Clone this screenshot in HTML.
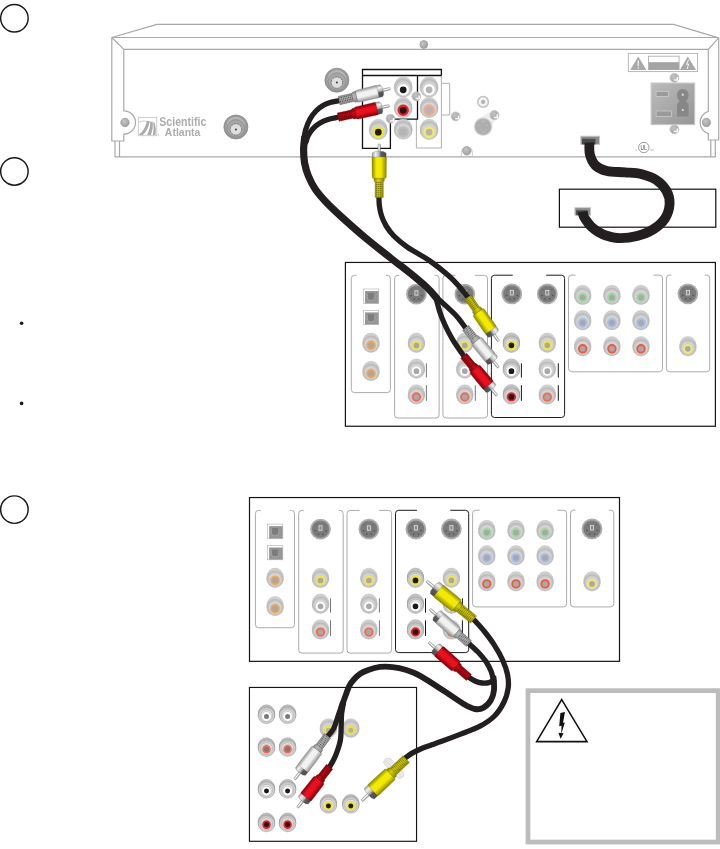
<!DOCTYPE html>
<html><head><meta charset="utf-8"><title>Connection diagram</title>
<style>html,body{margin:0;padding:0;background:#fff;}body{width:720px;height:849px;overflow:hidden;font-family:"Liberation Sans",sans-serif;}svg{display:block}</style>
</head><body>
<svg width="720" height="849" viewBox="0 0 720 849">
<defs>
<filter id="noop" x="-5%" y="-20%" width="110%" height="140%"><feOffset dx="0" dy="0"/></filter>
<radialGradient id="jg" cx="50%" cy="50%" r="52%"><stop offset="0" stop-color="#ececec"/><stop offset="0.6" stop-color="#dadada"/><stop offset="1" stop-color="#b0b0b0"/></radialGradient>
<radialGradient id="jg2" cx="50%" cy="55%" r="55%"><stop offset="0" stop-color="#f6f6f6"/><stop offset="0.6" stop-color="#e4e4e4"/><stop offset="1" stop-color="#b4b4b4"/></radialGradient>
<radialGradient id="sg" cx="40%" cy="35%" r="70%"><stop offset="0" stop-color="#c6c6c6"/><stop offset="1" stop-color="#9c9c9c"/></radialGradient>
<linearGradient id="pin" x1="0" y1="0" x2="0" y2="1"><stop offset="0" stop-color="#bdbdbd"/><stop offset="0.45" stop-color="#ffffff"/><stop offset="1" stop-color="#8a8a8a"/></linearGradient>
<linearGradient id="metal" x1="0" y1="0" x2="0" y2="1"><stop offset="0" stop-color="#9a9a9a"/><stop offset="0.22" stop-color="#f2f2f2"/><stop offset="0.5" stop-color="#b4b4b4"/><stop offset="0.62" stop-color="#5c5c5c"/><stop offset="1" stop-color="#4a4a4a"/></linearGradient>
<linearGradient id="outlet" x1="0" y1="0" x2="1" y2="1"><stop offset="0" stop-color="#bcbcbc"/><stop offset="1" stop-color="#969696"/></linearGradient>
<radialGradient id="coax" cx="50%" cy="50%" r="50%"><stop offset="0" stop-color="#c8c8c8"/><stop offset="0.7" stop-color="#b0b0b0"/><stop offset="1" stop-color="#8c8c8c"/></radialGradient>
<linearGradient id="pb_y" x1="0" y1="0" x2="0" y2="1"><stop offset="0" stop-color="#8a8400"/><stop offset="0.3" stop-color="#f2ea00"/><stop offset="0.62" stop-color="#f2ea00"/><stop offset="1" stop-color="#8a8400"/></linearGradient><linearGradient id="ps_y" x1="0" y1="0" x2="0" y2="1"><stop offset="0" stop-color="#8a8400"/><stop offset="0.4" stop-color="#d8d000"/><stop offset="1" stop-color="#8a8400"/></linearGradient><linearGradient id="pb_r" x1="0" y1="0" x2="0" y2="1"><stop offset="0" stop-color="#7d0008"/><stop offset="0.3" stop-color="#e8111f"/><stop offset="0.62" stop-color="#e8111f"/><stop offset="1" stop-color="#7d0008"/></linearGradient><linearGradient id="ps_r" x1="0" y1="0" x2="0" y2="1"><stop offset="0" stop-color="#7d0008"/><stop offset="0.4" stop-color="#c00d18"/><stop offset="1" stop-color="#7d0008"/></linearGradient><linearGradient id="pb_w" x1="0" y1="0" x2="0" y2="1"><stop offset="0" stop-color="#8e8e8e"/><stop offset="0.3" stop-color="#f2f2f2"/><stop offset="0.62" stop-color="#f2f2f2"/><stop offset="1" stop-color="#8e8e8e"/></linearGradient><linearGradient id="ps_w" x1="0" y1="0" x2="0" y2="1"><stop offset="0" stop-color="#8e8e8e"/><stop offset="0.4" stop-color="#b8b8b8"/><stop offset="1" stop-color="#8e8e8e"/></linearGradient></defs>
<rect width="720" height="849" fill="#fff"/>
<circle cx="14.4" cy="18.2" r="13.75" fill="#fff" stroke="#1a1a1a" stroke-width="1.45"/>
<circle cx="14.4" cy="171.4" r="13.75" fill="#fff" stroke="#1a1a1a" stroke-width="1.45"/>
<circle cx="14.4" cy="509.6" r="13.75" fill="#fff" stroke="#1a1a1a" stroke-width="1.45"/>
<circle cx="21.6" cy="323.3" r="1.8" fill="#1a1a1a"/><circle cx="21.6" cy="403.4" r="1.8" fill="#1a1a1a"/>
<g fill="none" stroke="#a9a9a9" stroke-width="1.2" stroke-linejoin="round">
<path d="M111.8,37.5 L157,24.4 H673.5 L718.7,37.9"/>
<path d="M111.8,37.5 H718.7"/>
<path d="M123.8,49.4 H708.3"/>
<path d="M111.8,37.5 L123.8,49.4 M718.7,37.9 L708.3,49.4"/>
<path d="M111.8,37.5 V141 H123.8 V134.2 A11.6,11.6 0 0 0 123.8,110.8 V49.4"/>
<path d="M718.7,37.9 V140 H708.3 V133.6 A11.6,11.6 0 0 1 708.3,111.4 V49.4"/>
<path d="M115,141 V156.9 M119.5,141 V156.9"/>
<path d="M710.8,140 V156.9 M715.3,140 V156.9"/>
<path d="M115,156.9 H715.3"/>
</g>
<circle cx="125" cy="122.5" r="4.2" fill="url(#sg)" stroke="#a2a2a2" stroke-width="0.9"/>
<circle cx="706.4" cy="122.5" r="4.2" fill="url(#sg)" stroke="#a2a2a2" stroke-width="0.9"/>
<circle cx="423.8" cy="44.5" r="3.9" fill="url(#sg)" stroke="#a2a2a2" stroke-width="0.9"/>
<g filter="url(#noop)">
<rect x="138.3" y="117.5" width="18.5" height="18.2" fill="#fff" stroke="#c2c2c2" stroke-width="0.8"/>
<path d="M138.8,134.9 Q145,130 147,121 L149.8,121 Q148.6,129.6 142.8,134.9 Z" fill="#aaaaaa"/>
<path d="M147.2,134.9 Q150.6,128 150.2,121.8 L152.5,121.6 Q153.6,128 150.9,134.9 Z" fill="#aaaaaa"/>
<path d="M152.9,134.9 Q154.2,128 153.2,122.2 L154.7,122.8 Q156.5,129 155.5,134.9 Z" fill="#aaaaaa"/>
<path d="M138.9,122.1 Q143,120.3 148,121.4" fill="none" stroke="#b4b4b4" stroke-width="0.7"/>
<rect x="158" y="134.4" width="1" height="1" fill="#b0b0b0"/>
<text x="159.3" y="126.3" font-family="Liberation Sans, sans-serif" font-weight="bold" font-size="12.2" fill="#adadad" textLength="47" lengthAdjust="spacingAndGlyphs">Scientific</text>
<text x="164.8" y="135.7" font-family="Liberation Sans, sans-serif" font-weight="bold" font-size="11.4" fill="#adadad" textLength="35.6" lengthAdjust="spacingAndGlyphs">Atlanta</text>
</g>
<circle cx="235.9" cy="127.0" r="12.0" fill="url(#coax)" stroke="#8e8e8e" stroke-width="0.8"/><circle cx="235.9" cy="126.2" r="9.8" fill="#b6b6b6" stroke="#9a9a9a" stroke-width="0.7"/><circle cx="235.9" cy="128.4" r="8.8" fill="#a6a6a6" stroke="#8a8a8a" stroke-width="0.8"/><circle cx="235.9" cy="129.4" r="5.7" fill="#dedede" stroke="#6a6a6a" stroke-width="0.8" stroke-dasharray="2.2 0.8"/><circle cx="235.9" cy="129.4" r="1.0" fill="#3a3a3a"/>
<circle cx="336.9" cy="80.2" r="12.0" fill="url(#coax)" stroke="#8e8e8e" stroke-width="0.8"/><circle cx="336.9" cy="79.4" r="9.8" fill="#b6b6b6" stroke="#9a9a9a" stroke-width="0.7"/><circle cx="336.9" cy="81.60000000000001" r="8.8" fill="#a6a6a6" stroke="#8a8a8a" stroke-width="0.8"/><circle cx="336.9" cy="82.60000000000001" r="5.7" fill="#dedede" stroke="#6a6a6a" stroke-width="0.8" stroke-dasharray="2.2 0.8"/><circle cx="336.9" cy="82.60000000000001" r="1.0" fill="#3a3a3a"/>
<path d="M441.4,75.5 V148 H416.4 V119.2" fill="none" stroke="#a8a8a8" stroke-width="0.9"/>
<path d="M441.4,83.3 H449.7 V115 H441.4" fill="none" stroke="#a8a8a8" stroke-width="0.9"/>
<path d="M362.5,75.5 H441.4 M417.5,75.5 V119.2 H390.4 V148.3 H362.5 V69.5 H441.4 V75.5" fill="none" stroke="#111" stroke-width="1.3" stroke-linejoin="miter"/>
<g opacity="1.0"><circle cx="403.2" cy="127.10" r="8.20" fill="#d6d6d6" stroke="#b6b6b6" stroke-width="0.4"/><circle cx="403.2" cy="128.13" r="8.47" fill="#e4e4e4" stroke="#b6b6b6" stroke-width="0.4"/><circle cx="403.2" cy="129.17" r="8.73" fill="#d6d6d6" stroke="#b6b6b6" stroke-width="0.4"/><circle cx="403.2" cy="130.20" r="9.0" fill="url(#jg)" stroke="#b6b6b6" stroke-width="0.4"/><circle cx="403.2" cy="131.40" r="7.50" fill="#dcdcdc" stroke="#b6b6b6" stroke-width="0.4"/><circle cx="403.2" cy="131.9" r="6.25" fill="#d4d4d4" stroke="#b6b6b6" stroke-width="0.36"/><circle cx="403.2" cy="131.9" r="4.55" fill="#b4b4b4" stroke="#bdbdbd" stroke-width="2.30"/></g>
<g opacity="1.0"><circle cx="403.2" cy="85.00" r="8.20" fill="#d6d6d6" stroke="#b6b6b6" stroke-width="0.4"/><circle cx="403.2" cy="86.03" r="8.47" fill="#e4e4e4" stroke="#b6b6b6" stroke-width="0.4"/><circle cx="403.2" cy="87.07" r="8.73" fill="#d6d6d6" stroke="#b6b6b6" stroke-width="0.4"/><circle cx="403.2" cy="88.10" r="9.0" fill="url(#jg)" stroke="#b6b6b6" stroke-width="0.4"/><circle cx="403.2" cy="89.30" r="7.50" fill="#dcdcdc" stroke="#b6b6b6" stroke-width="0.4"/><circle cx="403.2" cy="89.8" r="6.25" fill="#d4d4d4" stroke="#b6b6b6" stroke-width="0.36"/><circle cx="403.2" cy="89.8" r="4.55" fill="#1d1a1b" stroke="#ffffff" stroke-width="2.30"/></g>
<g opacity="1.0"><circle cx="403.2" cy="105.50" r="8.20" fill="#d6d6d6" stroke="#b6b6b6" stroke-width="0.4"/><circle cx="403.2" cy="106.53" r="8.47" fill="#e4e4e4" stroke="#b6b6b6" stroke-width="0.4"/><circle cx="403.2" cy="107.57" r="8.73" fill="#d6d6d6" stroke="#b6b6b6" stroke-width="0.4"/><circle cx="403.2" cy="108.60" r="9.0" fill="url(#jg)" stroke="#b6b6b6" stroke-width="0.4"/><circle cx="403.2" cy="109.80" r="7.50" fill="#dcdcdc" stroke="#b6b6b6" stroke-width="0.4"/><circle cx="403.2" cy="110.3" r="6.25" fill="#d4d4d4" stroke="#b6b6b6" stroke-width="0.36"/><circle cx="403.2" cy="110.3" r="4.55" fill="#1d1a1b" stroke="#ee1c24" stroke-width="2.30"/></g>
<g opacity="1.0"><circle cx="378.3" cy="127.40" r="8.20" fill="#d6d6d6" stroke="#b6b6b6" stroke-width="0.4"/><circle cx="378.3" cy="128.43" r="8.47" fill="#e4e4e4" stroke="#b6b6b6" stroke-width="0.4"/><circle cx="378.3" cy="129.47" r="8.73" fill="#d6d6d6" stroke="#b6b6b6" stroke-width="0.4"/><circle cx="378.3" cy="130.50" r="9.0" fill="url(#jg)" stroke="#b6b6b6" stroke-width="0.4"/><circle cx="378.3" cy="131.70" r="7.50" fill="#dcdcdc" stroke="#b6b6b6" stroke-width="0.4"/><circle cx="378.3" cy="132.2" r="6.25" fill="#d4d4d4" stroke="#b6b6b6" stroke-width="0.36"/><circle cx="378.3" cy="132.2" r="4.55" fill="#1d1a1b" stroke="#f4ea10" stroke-width="2.30"/></g>
<g opacity="1.0"><circle cx="429.1" cy="85.00" r="8.20" fill="#d6d6d6" stroke="#b6b6b6" stroke-width="0.4"/><circle cx="429.1" cy="86.03" r="8.47" fill="#e4e4e4" stroke="#b6b6b6" stroke-width="0.4"/><circle cx="429.1" cy="87.07" r="8.73" fill="#d6d6d6" stroke="#b6b6b6" stroke-width="0.4"/><circle cx="429.1" cy="88.10" r="9.0" fill="url(#jg)" stroke="#b6b6b6" stroke-width="0.4"/><circle cx="429.1" cy="89.30" r="7.50" fill="#dcdcdc" stroke="#b6b6b6" stroke-width="0.4"/><circle cx="429.1" cy="89.8" r="6.25" fill="#d4d4d4" stroke="#b6b6b6" stroke-width="0.36"/><circle cx="429.1" cy="89.8" r="4.55" fill="#b4b4b4" stroke="#ffffff" stroke-width="2.30"/></g>
<g opacity="1.0"><circle cx="429.1" cy="105.50" r="8.20" fill="#d6d6d6" stroke="#b6b6b6" stroke-width="0.4"/><circle cx="429.1" cy="106.53" r="8.47" fill="#e4e4e4" stroke="#b6b6b6" stroke-width="0.4"/><circle cx="429.1" cy="107.57" r="8.73" fill="#d6d6d6" stroke="#b6b6b6" stroke-width="0.4"/><circle cx="429.1" cy="108.60" r="9.0" fill="url(#jg)" stroke="#b6b6b6" stroke-width="0.4"/><circle cx="429.1" cy="109.80" r="7.50" fill="#dcdcdc" stroke="#b6b6b6" stroke-width="0.4"/><circle cx="429.1" cy="110.3" r="6.25" fill="#d4d4d4" stroke="#b6b6b6" stroke-width="0.36"/><circle cx="429.1" cy="110.3" r="4.55" fill="#b4b4b4" stroke="#f4a58e" stroke-width="2.30"/></g>
<g opacity="1.0"><circle cx="429.1" cy="127.40" r="8.20" fill="#d6d6d6" stroke="#b6b6b6" stroke-width="0.4"/><circle cx="429.1" cy="128.43" r="8.47" fill="#e4e4e4" stroke="#b6b6b6" stroke-width="0.4"/><circle cx="429.1" cy="129.47" r="8.73" fill="#d6d6d6" stroke="#b6b6b6" stroke-width="0.4"/><circle cx="429.1" cy="130.50" r="9.0" fill="url(#jg)" stroke="#b6b6b6" stroke-width="0.4"/><circle cx="429.1" cy="131.70" r="7.50" fill="#dcdcdc" stroke="#b6b6b6" stroke-width="0.4"/><circle cx="429.1" cy="132.2" r="6.25" fill="#d4d4d4" stroke="#b6b6b6" stroke-width="0.36"/><circle cx="429.1" cy="132.2" r="4.55" fill="#b4b4b4" stroke="#f6ee58" stroke-width="2.30"/></g>
<circle cx="416.3" cy="96.3" r="4.4" fill="url(#sg)" stroke="#c4c4c4" stroke-width="0.9"/><path d="M419.20,95.50 V98.60 H415.70" stroke="#fafafa" stroke-width="1.5" fill="none"/><path d="M413.90,95.90 H416.90 M415.40,94.10 V97.30" stroke="#bdbdbd" stroke-width="0.7" fill="none"/>
<circle cx="390.5" cy="118.7" r="4.4" fill="url(#sg)" stroke="#c4c4c4" stroke-width="0.9"/><path d="M393.40,117.90 V121.00 H389.90" stroke="#fafafa" stroke-width="1.5" fill="none"/><path d="M388.10,118.30 H391.10 M389.60,116.50 V119.70" stroke="#bdbdbd" stroke-width="0.7" fill="none"/>
<circle cx="455.7" cy="116.4" r="4.4" fill="url(#sg)" stroke="#c4c4c4" stroke-width="0.9"/><path d="M458.60,115.60 V118.70 H455.10" stroke="#fafafa" stroke-width="1.5" fill="none"/><path d="M453.30,116.00 H456.30 M454.80,114.20 V117.40" stroke="#bdbdbd" stroke-width="0.7" fill="none"/>
<circle cx="494.4" cy="115.1" r="4.4" fill="url(#sg)" stroke="#c4c4c4" stroke-width="0.9"/><path d="M497.30,114.30 V117.40 H493.80" stroke="#fafafa" stroke-width="1.5" fill="none"/><path d="M492.00,114.70 H495.00 M493.50,112.90 V116.10" stroke="#bdbdbd" stroke-width="0.7" fill="none"/>
<path d="M461.4,156.9 V152.5 Q461.4,149 464,147.6 M472.4,156.9 V152.5 Q472.4,149 469.8,147.6" fill="none" stroke="#c2c2c2" stroke-width="0.8"/>
<circle cx="466.8" cy="150.8" r="4.2" fill="url(#sg)" stroke="#a2a2a2" stroke-width="0.9"/>
<circle cx="483.1" cy="101.9" r="5.3" fill="#f4f4f4" stroke="#c2c2c2" stroke-width="1.5"/><circle cx="483.1" cy="101.9" r="2.1" fill="#b2b2b2"/>
<path d="M477,119.5 L491,111.6 L497,118 L490,128 Z" fill="#eeeeee"/>
<circle cx="483.1" cy="126.7" r="9.4" fill="#e2e2e2"/><circle cx="483.1" cy="126.7" r="8.3" fill="#aeaeae" stroke="#c4c4c4" stroke-width="0.6"/>
<circle cx="478.90000000000003" cy="125.5" r="0.8" fill="#bdbdbd"/>
<circle cx="487.3" cy="125.5" r="0.8" fill="#bdbdbd"/>
<circle cx="480.3" cy="130.1" r="0.8" fill="#bdbdbd"/>
<circle cx="485.90000000000003" cy="130.1" r="0.8" fill="#bdbdbd"/>
<rect x="481.6" y="120.6" width="3" height="1.6" fill="#bcbcbc"/><rect x="481.4" y="131.3" width="3.4" height="1.2" fill="#bcbcbc"/>
<circle cx="494.4" cy="115.1" r="4.4" fill="url(#sg)" stroke="#c4c4c4" stroke-width="0.9"/><path d="M497.30,114.30 V117.40 H493.80" stroke="#fafafa" stroke-width="1.5" fill="none"/><path d="M492.00,114.70 H495.00 M493.50,112.90 V116.10" stroke="#bdbdbd" stroke-width="0.7" fill="none"/>
<rect x="628.3" y="53.4" width="69.3" height="18.2" fill="#fff" stroke="#b0b0b0" stroke-width="0.9"/>
<path d="M638.2,56.6 L646.4,70 H630.2 Z" fill="#a8a8a8"/><path d="M638.2,60.5 V66.2 M638.2,67.4 V68.8" stroke="#fff" stroke-width="1.1"/>
<path d="M687.8,56.6 L696,70 H679.8 Z" fill="#a8a8a8"/><path d="M688.6,59.6 L686.6,64.4 L688.6,64 L687.2,69 " stroke="#fff" stroke-width="0.9" fill="none"/>
<rect x="648.6" y="56.2" width="30.5" height="6.4" fill="#fff" stroke="#a8a8a8" stroke-width="0.8"/><rect x="648.2" y="62.8" width="31.3" height="7.2" fill="#a4a4a4"/>
<circle cx="674.4" cy="77.8" r="4.4" fill="url(#sg)" stroke="#c4c4c4" stroke-width="0.9"/><path d="M677.30,77.00 V80.10 H673.80" stroke="#fafafa" stroke-width="1.5" fill="none"/><path d="M672.00,77.40 H675.00 M673.50,75.60 V78.80" stroke="#bdbdbd" stroke-width="0.7" fill="none"/>
<circle cx="674.4" cy="129.3" r="4.4" fill="url(#sg)" stroke="#c4c4c4" stroke-width="0.9"/><path d="M677.30,128.50 V131.60 H673.80" stroke="#fafafa" stroke-width="1.5" fill="none"/><path d="M672.00,128.90 H675.00 M673.50,127.10 V130.30" stroke="#bdbdbd" stroke-width="0.7" fill="none"/>
<rect x="651.2" y="83.1" width="43.4" height="41.4" fill="url(#outlet)" stroke="#c4c4c4" stroke-width="1.2"/>
<rect x="656.1" y="91.6" width="12.1" height="4.8" fill="#9a9a9a" stroke="#d0d0d0" stroke-width="0.7"/>
<rect x="656.1" y="111" width="15.5" height="5.4" fill="#9a9a9a" stroke="#d0d0d0" stroke-width="0.7"/>
<path d="M677,96 a5.9,6 0 1 1 11.6,0 q-0.4,3 -2.2,4.6 q-0.6,0.6 0,1.2 q2.2,1.4 2.2,3.6 v11 h-11.6 v-11 q0,-2.2 2.2,-3.6 q0.6,-0.6 0,-1.2 q-1.8,-1.6 -2.2,-4.6 z" fill="#878787"/>
<path d="M682.8,93 l1.3,2.4 h-2.6 z M682.8,108.4 l1.3,2.4 h-2.6 z" fill="#f0f0f0"/>
<circle cx="643.8" cy="147.5" r="5.2" fill="#fff" stroke="#8e8e8e" stroke-width="0.9"/>
<g filter="url(#noop)">
<text x="640.4" y="150.2" font-family="Liberation Sans, sans-serif" font-size="6.4" fill="#858585" font-weight="bold" textLength="6.6" lengthAdjust="spacingAndGlyphs">UL</text>
<text x="635.4" y="150.6" font-family="Liberation Sans, sans-serif" font-size="3.4" fill="#a8a8a8">c</text><text x="650.2" y="150.6" font-family="Liberation Sans, sans-serif" font-size="3.4" fill="#a8a8a8">us</text></g>
<g transform="translate(0,0)"><rect x="345.4" y="262.45" width="370" height="163.8" fill="#fff" stroke="#151515" stroke-width="1.2"/><path d="M356.6,275.3 H354.5 Q351.3,275.3 351.3,278.5 V389.40000000000003 Q351.3,392.6 354.5,392.6 H387.2 Q390.4,392.6 390.4,389.40000000000003 V278.5 Q390.4,275.3 387.2,275.3 H385.8" fill="none" stroke="#959595" stroke-width="0.8"/><path d="M399.4,275.3 H397.8 Q394.6,275.3 394.6,278.5 V414.8 Q394.6,418 397.8,418 H435.90000000000003 Q439.1,418 439.1,414.8 V278.5 Q439.1,275.3 435.90000000000003,275.3 H434.6" fill="none" stroke="#959595" stroke-width="0.8"/><path d="M455.4,275.3 H446.09999999999997 Q442.9,275.3 442.9,278.5 V414.8 Q442.9,418 446.09999999999997,418 H484.3 Q487.5,418 487.5,414.8 V278.5 Q487.5,275.3 484.3,275.3 H474.9" fill="none" stroke="#959595" stroke-width="0.8"/><path d="M512.8,275.2 H494.59999999999997 Q491.4,275.2 491.4,278.4 V414.3 Q491.4,417.5 494.59999999999997,417.5 H561.4 Q564.6,417.5 564.6,414.3 V278.4 Q564.6,275.2 561.4,275.2 H546.2" fill="none" stroke="#1c1c1c" stroke-width="1.0"/><path d="M575.5,275.1 H571.7 Q568.5,275.1 568.5,278.3 V368.6 Q568.5,371.8 571.7,371.8 H659.3 Q662.5,371.8 662.5,368.6 V278.3 Q662.5,275.1 659.3,275.1 H653.3" fill="none" stroke="#959595" stroke-width="0.8"/><path d="M671.4,275.1 H669.6 Q666.4,275.1 666.4,278.3 V368.6 Q666.4,371.8 669.6,371.8 H706.5 Q709.7,371.8 709.7,368.6 V278.3 Q709.7,275.1 706.5,275.1 H704.7" fill="none" stroke="#959595" stroke-width="0.8"/><rect x="363.25" y="289.0" width="15.5" height="14.6" fill="#fff" stroke="#a6a6a6" stroke-width="0.55"/><rect x="365.05" y="291.0" width="13.50" height="12.40" fill="#969696"/><path d="M367.95,292.9 h6.1 v4.20 q0,2.6 -2.6,2.6 h-0.90 q-2.6,0 -2.6,-2.6 z" fill="#7c7c7c"/><path d="M367.25,295.09999999999997 v2.40 q0,3.0 3.0,3.0 h1.50 q3.0,0 3.0,-3.0 v-2.40" fill="none" stroke="#c8c8c8" stroke-width="0.5" stroke-dasharray="1 1.2"/><rect x="363.25" y="310.4" width="15.5" height="14.3" fill="#fff" stroke="#a6a6a6" stroke-width="0.55"/><rect x="365.05" y="312.4" width="13.50" height="12.10" fill="#969696"/><path d="M367.95,314.29999999999995 h6.1 v4.20 q0,2.6 -2.6,2.6 h-0.90 q-2.6,0 -2.6,-2.6 z" fill="#7c7c7c"/><path d="M367.25,316.49999999999994 v2.40 q0,3.0 3.0,3.0 h1.50 q3.0,0 3.0,-3.0 v-2.40" fill="none" stroke="#c8c8c8" stroke-width="0.5" stroke-dasharray="1 1.2"/><g opacity="1.0"><circle cx="371" cy="340.90" r="7.90" fill="#d6d6d6" stroke="#b6b6b6" stroke-width="0.4"/><circle cx="371" cy="341.97" r="8.03" fill="#e4e4e4" stroke="#b6b6b6" stroke-width="0.4"/><circle cx="371" cy="343.03" r="8.17" fill="#d6d6d6" stroke="#b6b6b6" stroke-width="0.4"/><circle cx="371" cy="344.10" r="8.3" fill="url(#jg)" stroke="#b6b6b6" stroke-width="0.4"/><circle cx="371" cy="344.80" r="6.50" fill="#dcdcdc" stroke="#b6b6b6" stroke-width="0.4"/><circle cx="371" cy="345.3" r="5.25" fill="#d4d4d4" stroke="#b6b6b6" stroke-width="0.36"/><circle cx="371" cy="345.3" r="3.78" fill="#a8a8a8" stroke="#f5a54a" stroke-width="1.85"/></g><g opacity="1.0"><circle cx="371" cy="369.20" r="7.90" fill="#d6d6d6" stroke="#b6b6b6" stroke-width="0.4"/><circle cx="371" cy="370.27" r="8.03" fill="#e4e4e4" stroke="#b6b6b6" stroke-width="0.4"/><circle cx="371" cy="371.33" r="8.17" fill="#d6d6d6" stroke="#b6b6b6" stroke-width="0.4"/><circle cx="371" cy="372.40" r="8.3" fill="url(#jg)" stroke="#b6b6b6" stroke-width="0.4"/><circle cx="371" cy="373.10" r="6.50" fill="#dcdcdc" stroke="#b6b6b6" stroke-width="0.4"/><circle cx="371" cy="373.6" r="5.25" fill="#d4d4d4" stroke="#b6b6b6" stroke-width="0.36"/><circle cx="371" cy="373.6" r="3.78" fill="#a8a8a8" stroke="#f5a54a" stroke-width="1.85"/></g><circle cx="416.4" cy="294.1" r="10.4" fill="#adadad"/><circle cx="416.4" cy="294.1" r="8.60" fill="#7b7b7b"/><rect x="414.85" y="290.70" width="3.1" height="4.5" fill="#8a8a8a" stroke="#dcdcdc" stroke-width="0.85"/><rect x="410.40" y="295.00" width="1.6" height="1.4" fill="#565656"/><rect x="421.00" y="295.00" width="1.6" height="1.4" fill="#565656"/><rect x="413.50" y="298.40" width="1.6" height="1.4" fill="#565656"/><rect x="417.90" y="298.40" width="1.6" height="1.4" fill="#565656"/><rect x="411.40" y="289.40" width="1.2" height="1.0" fill="#666"/><rect x="420.40" y="289.40" width="1.2" height="1.0" fill="#666"/><rect x="415.20" y="285.30" width="2.4" height="1.1" fill="#9c9c9c"/><g opacity="1.0"><circle cx="416.4" cy="341.00" r="7.90" fill="#d6d6d6" stroke="#b6b6b6" stroke-width="0.4"/><circle cx="416.4" cy="342.07" r="8.03" fill="#e4e4e4" stroke="#b6b6b6" stroke-width="0.4"/><circle cx="416.4" cy="343.13" r="8.17" fill="#d6d6d6" stroke="#b6b6b6" stroke-width="0.4"/><circle cx="416.4" cy="344.20" r="8.3" fill="url(#jg)" stroke="#b6b6b6" stroke-width="0.4"/><circle cx="416.4" cy="344.90" r="6.50" fill="#dcdcdc" stroke="#b6b6b6" stroke-width="0.4"/><circle cx="416.4" cy="345.4" r="5.25" fill="#d4d4d4" stroke="#b6b6b6" stroke-width="0.36"/><circle cx="416.4" cy="345.4" r="3.78" fill="#a8a8a8" stroke="#f4ea3a" stroke-width="1.85"/></g><g opacity="1.0"><circle cx="416.4" cy="366.80" r="7.90" fill="#d6d6d6" stroke="#b6b6b6" stroke-width="0.4"/><circle cx="416.4" cy="367.87" r="8.03" fill="#e4e4e4" stroke="#b6b6b6" stroke-width="0.4"/><circle cx="416.4" cy="368.93" r="8.17" fill="#d6d6d6" stroke="#b6b6b6" stroke-width="0.4"/><circle cx="416.4" cy="370.00" r="8.3" fill="url(#jg)" stroke="#b6b6b6" stroke-width="0.4"/><circle cx="416.4" cy="370.70" r="6.50" fill="#dcdcdc" stroke="#b6b6b6" stroke-width="0.4"/><circle cx="416.4" cy="371.2" r="5.25" fill="#d4d4d4" stroke="#b6b6b6" stroke-width="0.36"/><circle cx="416.4" cy="371.2" r="3.78" fill="#a8a8a8" stroke="#ffffff" stroke-width="1.85"/></g><g opacity="1.0"><circle cx="416.4" cy="392.60" r="7.90" fill="#d6d6d6" stroke="#b6b6b6" stroke-width="0.4"/><circle cx="416.4" cy="393.67" r="8.03" fill="#e4e4e4" stroke="#b6b6b6" stroke-width="0.4"/><circle cx="416.4" cy="394.73" r="8.17" fill="#d6d6d6" stroke="#b6b6b6" stroke-width="0.4"/><circle cx="416.4" cy="395.80" r="8.3" fill="url(#jg)" stroke="#b6b6b6" stroke-width="0.4"/><circle cx="416.4" cy="396.50" r="6.50" fill="#dcdcdc" stroke="#b6b6b6" stroke-width="0.4"/><circle cx="416.4" cy="397" r="5.25" fill="#d4d4d4" stroke="#b6b6b6" stroke-width="0.36"/><circle cx="416.4" cy="397" r="3.78" fill="#a8a8a8" stroke="#f26a52" stroke-width="1.85"/></g><circle cx="464.8" cy="294.1" r="10.4" fill="#adadad"/><circle cx="464.8" cy="294.1" r="8.60" fill="#7b7b7b"/><rect x="463.25" y="290.70" width="3.1" height="4.5" fill="#8a8a8a" stroke="#dcdcdc" stroke-width="0.85"/><rect x="458.80" y="295.00" width="1.6" height="1.4" fill="#565656"/><rect x="469.40" y="295.00" width="1.6" height="1.4" fill="#565656"/><rect x="461.90" y="298.40" width="1.6" height="1.4" fill="#565656"/><rect x="466.30" y="298.40" width="1.6" height="1.4" fill="#565656"/><rect x="459.80" y="289.40" width="1.2" height="1.0" fill="#666"/><rect x="468.80" y="289.40" width="1.2" height="1.0" fill="#666"/><rect x="463.60" y="285.30" width="2.4" height="1.1" fill="#9c9c9c"/><g opacity="1.0"><circle cx="464.8" cy="341.00" r="7.90" fill="#d6d6d6" stroke="#b6b6b6" stroke-width="0.4"/><circle cx="464.8" cy="342.07" r="8.03" fill="#e4e4e4" stroke="#b6b6b6" stroke-width="0.4"/><circle cx="464.8" cy="343.13" r="8.17" fill="#d6d6d6" stroke="#b6b6b6" stroke-width="0.4"/><circle cx="464.8" cy="344.20" r="8.3" fill="url(#jg)" stroke="#b6b6b6" stroke-width="0.4"/><circle cx="464.8" cy="344.90" r="6.50" fill="#dcdcdc" stroke="#b6b6b6" stroke-width="0.4"/><circle cx="464.8" cy="345.4" r="5.25" fill="#d4d4d4" stroke="#b6b6b6" stroke-width="0.36"/><circle cx="464.8" cy="345.4" r="3.78" fill="#a8a8a8" stroke="#f4ea3a" stroke-width="1.85"/></g><g opacity="1.0"><circle cx="464.8" cy="366.80" r="7.90" fill="#d6d6d6" stroke="#b6b6b6" stroke-width="0.4"/><circle cx="464.8" cy="367.87" r="8.03" fill="#e4e4e4" stroke="#b6b6b6" stroke-width="0.4"/><circle cx="464.8" cy="368.93" r="8.17" fill="#d6d6d6" stroke="#b6b6b6" stroke-width="0.4"/><circle cx="464.8" cy="370.00" r="8.3" fill="url(#jg)" stroke="#b6b6b6" stroke-width="0.4"/><circle cx="464.8" cy="370.70" r="6.50" fill="#dcdcdc" stroke="#b6b6b6" stroke-width="0.4"/><circle cx="464.8" cy="371.2" r="5.25" fill="#d4d4d4" stroke="#b6b6b6" stroke-width="0.36"/><circle cx="464.8" cy="371.2" r="3.78" fill="#a8a8a8" stroke="#ffffff" stroke-width="1.85"/></g><g opacity="1.0"><circle cx="464.8" cy="392.60" r="7.90" fill="#d6d6d6" stroke="#b6b6b6" stroke-width="0.4"/><circle cx="464.8" cy="393.67" r="8.03" fill="#e4e4e4" stroke="#b6b6b6" stroke-width="0.4"/><circle cx="464.8" cy="394.73" r="8.17" fill="#d6d6d6" stroke="#b6b6b6" stroke-width="0.4"/><circle cx="464.8" cy="395.80" r="8.3" fill="url(#jg)" stroke="#b6b6b6" stroke-width="0.4"/><circle cx="464.8" cy="396.50" r="6.50" fill="#dcdcdc" stroke="#b6b6b6" stroke-width="0.4"/><circle cx="464.8" cy="397" r="5.25" fill="#d4d4d4" stroke="#b6b6b6" stroke-width="0.36"/><circle cx="464.8" cy="397" r="3.78" fill="#a8a8a8" stroke="#f26a52" stroke-width="1.85"/></g><path d="M426.4,363.3 V377.5 M426.4,385.2 V400.8" stroke="#555" stroke-width="0.8"/><path d="M475.3,363.3 V377.5 M475.3,385.2 V400.8" stroke="#555" stroke-width="0.8"/><circle cx="511.8" cy="293.9" r="10.4" fill="#adadad"/><circle cx="511.8" cy="293.9" r="8.60" fill="#7b7b7b"/><rect x="510.25" y="290.50" width="3.1" height="4.5" fill="#8a8a8a" stroke="#dcdcdc" stroke-width="0.85"/><rect x="505.80" y="294.80" width="1.6" height="1.4" fill="#565656"/><rect x="516.40" y="294.80" width="1.6" height="1.4" fill="#565656"/><rect x="508.90" y="298.20" width="1.6" height="1.4" fill="#565656"/><rect x="513.30" y="298.20" width="1.6" height="1.4" fill="#565656"/><rect x="506.80" y="289.20" width="1.2" height="1.0" fill="#666"/><rect x="515.80" y="289.20" width="1.2" height="1.0" fill="#666"/><rect x="510.60" y="285.10" width="2.4" height="1.1" fill="#9c9c9c"/><circle cx="547.3" cy="293.9" r="10.4" fill="#adadad"/><circle cx="547.3" cy="293.9" r="8.60" fill="#7b7b7b"/><rect x="545.75" y="290.50" width="3.1" height="4.5" fill="#8a8a8a" stroke="#dcdcdc" stroke-width="0.85"/><rect x="541.30" y="294.80" width="1.6" height="1.4" fill="#565656"/><rect x="551.90" y="294.80" width="1.6" height="1.4" fill="#565656"/><rect x="544.40" y="298.20" width="1.6" height="1.4" fill="#565656"/><rect x="548.80" y="298.20" width="1.6" height="1.4" fill="#565656"/><rect x="542.30" y="289.20" width="1.2" height="1.0" fill="#666"/><rect x="551.30" y="289.20" width="1.2" height="1.0" fill="#666"/><rect x="546.10" y="285.10" width="2.4" height="1.1" fill="#9c9c9c"/><g opacity="1.0"><circle cx="511.4" cy="340.90" r="7.90" fill="#dedede" stroke="#808080" stroke-width="0.38"/><circle cx="511.4" cy="341.97" r="8.03" fill="#eeeeee" stroke="#808080" stroke-width="0.38"/><circle cx="511.4" cy="343.03" r="8.17" fill="#dedede" stroke="#808080" stroke-width="0.38"/><circle cx="511.4" cy="344.10" r="8.3" fill="url(#jg2)" stroke="#808080" stroke-width="0.38"/><circle cx="511.4" cy="344.80" r="6.50" fill="#ececec" stroke="#808080" stroke-width="0.38"/><circle cx="511.4" cy="345.3" r="5.25" fill="#f4f4f4" stroke="#808080" stroke-width="0.34"/><circle cx="511.4" cy="345.3" r="3.78" fill="#1d1a1b" stroke="#f4ea10" stroke-width="1.85"/></g><g opacity="1.0"><circle cx="511.4" cy="366.80" r="7.90" fill="#dedede" stroke="#808080" stroke-width="0.38"/><circle cx="511.4" cy="367.87" r="8.03" fill="#eeeeee" stroke="#808080" stroke-width="0.38"/><circle cx="511.4" cy="368.93" r="8.17" fill="#dedede" stroke="#808080" stroke-width="0.38"/><circle cx="511.4" cy="370.00" r="8.3" fill="url(#jg2)" stroke="#808080" stroke-width="0.38"/><circle cx="511.4" cy="370.70" r="6.50" fill="#ececec" stroke="#808080" stroke-width="0.38"/><circle cx="511.4" cy="371.2" r="5.25" fill="#f4f4f4" stroke="#808080" stroke-width="0.34"/><circle cx="511.4" cy="371.2" r="3.78" fill="#1d1a1b" stroke="#ffffff" stroke-width="1.85"/></g><g opacity="1.0"><circle cx="511.4" cy="392.50" r="7.90" fill="#dedede" stroke="#808080" stroke-width="0.38"/><circle cx="511.4" cy="393.57" r="8.03" fill="#eeeeee" stroke="#808080" stroke-width="0.38"/><circle cx="511.4" cy="394.63" r="8.17" fill="#dedede" stroke="#808080" stroke-width="0.38"/><circle cx="511.4" cy="395.70" r="8.3" fill="url(#jg2)" stroke="#808080" stroke-width="0.38"/><circle cx="511.4" cy="396.40" r="6.50" fill="#ececec" stroke="#808080" stroke-width="0.38"/><circle cx="511.4" cy="396.9" r="5.25" fill="#f4f4f4" stroke="#808080" stroke-width="0.34"/><circle cx="511.4" cy="396.9" r="3.78" fill="#1d1a1b" stroke="#ee1c24" stroke-width="1.85"/></g><g opacity="1.0"><circle cx="547.3" cy="340.90" r="7.90" fill="#d6d6d6" stroke="#b6b6b6" stroke-width="0.4"/><circle cx="547.3" cy="341.97" r="8.03" fill="#e4e4e4" stroke="#b6b6b6" stroke-width="0.4"/><circle cx="547.3" cy="343.03" r="8.17" fill="#d6d6d6" stroke="#b6b6b6" stroke-width="0.4"/><circle cx="547.3" cy="344.10" r="8.3" fill="url(#jg)" stroke="#b6b6b6" stroke-width="0.4"/><circle cx="547.3" cy="344.80" r="6.50" fill="#dcdcdc" stroke="#b6b6b6" stroke-width="0.4"/><circle cx="547.3" cy="345.3" r="5.25" fill="#d4d4d4" stroke="#b6b6b6" stroke-width="0.36"/><circle cx="547.3" cy="345.3" r="3.78" fill="#a8a8a8" stroke="#f4ea3a" stroke-width="1.85"/></g><g opacity="1.0"><circle cx="547.3" cy="366.80" r="7.90" fill="#d6d6d6" stroke="#b6b6b6" stroke-width="0.4"/><circle cx="547.3" cy="367.87" r="8.03" fill="#e4e4e4" stroke="#b6b6b6" stroke-width="0.4"/><circle cx="547.3" cy="368.93" r="8.17" fill="#d6d6d6" stroke="#b6b6b6" stroke-width="0.4"/><circle cx="547.3" cy="370.00" r="8.3" fill="url(#jg)" stroke="#b6b6b6" stroke-width="0.4"/><circle cx="547.3" cy="370.70" r="6.50" fill="#dcdcdc" stroke="#b6b6b6" stroke-width="0.4"/><circle cx="547.3" cy="371.2" r="5.25" fill="#d4d4d4" stroke="#b6b6b6" stroke-width="0.36"/><circle cx="547.3" cy="371.2" r="3.78" fill="#a8a8a8" stroke="#ffffff" stroke-width="1.85"/></g><g opacity="1.0"><circle cx="547.3" cy="392.70" r="7.90" fill="#d6d6d6" stroke="#b6b6b6" stroke-width="0.4"/><circle cx="547.3" cy="393.77" r="8.03" fill="#e4e4e4" stroke="#b6b6b6" stroke-width="0.4"/><circle cx="547.3" cy="394.83" r="8.17" fill="#d6d6d6" stroke="#b6b6b6" stroke-width="0.4"/><circle cx="547.3" cy="395.90" r="8.3" fill="url(#jg)" stroke="#b6b6b6" stroke-width="0.4"/><circle cx="547.3" cy="396.60" r="6.50" fill="#dcdcdc" stroke="#b6b6b6" stroke-width="0.4"/><circle cx="547.3" cy="397.1" r="5.25" fill="#d4d4d4" stroke="#b6b6b6" stroke-width="0.36"/><circle cx="547.3" cy="397.1" r="3.78" fill="#a8a8a8" stroke="#f26a52" stroke-width="1.85"/></g><path d="M521.4,363.3 V377.5 M521.4,385.2 V400.8" stroke="#151515" stroke-width="1.0"/><path d="M558.3,363.3 V377.5 M558.3,385.2 V400.8" stroke="#151515" stroke-width="1.0"/><g opacity="1.0"><circle cx="582.7" cy="293.10" r="7.90" fill="#d6d6d6" stroke="#b6b6b6" stroke-width="0.4"/><circle cx="582.7" cy="294.17" r="8.03" fill="#e4e4e4" stroke="#b6b6b6" stroke-width="0.4"/><circle cx="582.7" cy="295.23" r="8.17" fill="#d6d6d6" stroke="#b6b6b6" stroke-width="0.4"/><circle cx="582.7" cy="296.30" r="8.3" fill="url(#jg)" stroke="#b6b6b6" stroke-width="0.4"/><circle cx="582.7" cy="297.00" r="6.50" fill="#dcdcdc" stroke="#b6b6b6" stroke-width="0.4"/><circle cx="582.7" cy="297.5" r="5.25" fill="#d4d4d4" stroke="#b6b6b6" stroke-width="0.36"/><circle cx="582.7" cy="297.5" r="3.78" fill="#a8a8a8" stroke="#98dc98" stroke-width="1.85"/></g><g opacity="1.0"><circle cx="582.7" cy="318.40" r="7.90" fill="#d6d6d6" stroke="#b6b6b6" stroke-width="0.4"/><circle cx="582.7" cy="319.47" r="8.03" fill="#e4e4e4" stroke="#b6b6b6" stroke-width="0.4"/><circle cx="582.7" cy="320.53" r="8.17" fill="#d6d6d6" stroke="#b6b6b6" stroke-width="0.4"/><circle cx="582.7" cy="321.60" r="8.3" fill="url(#jg)" stroke="#b6b6b6" stroke-width="0.4"/><circle cx="582.7" cy="322.30" r="6.50" fill="#dcdcdc" stroke="#b6b6b6" stroke-width="0.4"/><circle cx="582.7" cy="322.8" r="5.25" fill="#d4d4d4" stroke="#b6b6b6" stroke-width="0.36"/><circle cx="582.7" cy="322.8" r="3.78" fill="#a8a8a8" stroke="#a4bdf0" stroke-width="1.85"/></g><g opacity="1.0"><circle cx="582.7" cy="344.40" r="7.90" fill="#d6d6d6" stroke="#b6b6b6" stroke-width="0.4"/><circle cx="582.7" cy="345.47" r="8.03" fill="#e4e4e4" stroke="#b6b6b6" stroke-width="0.4"/><circle cx="582.7" cy="346.53" r="8.17" fill="#d6d6d6" stroke="#b6b6b6" stroke-width="0.4"/><circle cx="582.7" cy="347.60" r="8.3" fill="url(#jg)" stroke="#b6b6b6" stroke-width="0.4"/><circle cx="582.7" cy="348.30" r="6.50" fill="#dcdcdc" stroke="#b6b6b6" stroke-width="0.4"/><circle cx="582.7" cy="348.8" r="5.25" fill="#d4d4d4" stroke="#b6b6b6" stroke-width="0.36"/><circle cx="582.7" cy="348.8" r="3.78" fill="#a8a8a8" stroke="#f0573f" stroke-width="1.85"/></g><g opacity="1.0"><circle cx="611.9" cy="293.10" r="7.90" fill="#d6d6d6" stroke="#b6b6b6" stroke-width="0.4"/><circle cx="611.9" cy="294.17" r="8.03" fill="#e4e4e4" stroke="#b6b6b6" stroke-width="0.4"/><circle cx="611.9" cy="295.23" r="8.17" fill="#d6d6d6" stroke="#b6b6b6" stroke-width="0.4"/><circle cx="611.9" cy="296.30" r="8.3" fill="url(#jg)" stroke="#b6b6b6" stroke-width="0.4"/><circle cx="611.9" cy="297.00" r="6.50" fill="#dcdcdc" stroke="#b6b6b6" stroke-width="0.4"/><circle cx="611.9" cy="297.5" r="5.25" fill="#d4d4d4" stroke="#b6b6b6" stroke-width="0.36"/><circle cx="611.9" cy="297.5" r="3.78" fill="#a8a8a8" stroke="#98dc98" stroke-width="1.85"/></g><g opacity="1.0"><circle cx="611.9" cy="318.40" r="7.90" fill="#d6d6d6" stroke="#b6b6b6" stroke-width="0.4"/><circle cx="611.9" cy="319.47" r="8.03" fill="#e4e4e4" stroke="#b6b6b6" stroke-width="0.4"/><circle cx="611.9" cy="320.53" r="8.17" fill="#d6d6d6" stroke="#b6b6b6" stroke-width="0.4"/><circle cx="611.9" cy="321.60" r="8.3" fill="url(#jg)" stroke="#b6b6b6" stroke-width="0.4"/><circle cx="611.9" cy="322.30" r="6.50" fill="#dcdcdc" stroke="#b6b6b6" stroke-width="0.4"/><circle cx="611.9" cy="322.8" r="5.25" fill="#d4d4d4" stroke="#b6b6b6" stroke-width="0.36"/><circle cx="611.9" cy="322.8" r="3.78" fill="#a8a8a8" stroke="#a4bdf0" stroke-width="1.85"/></g><g opacity="1.0"><circle cx="611.9" cy="344.40" r="7.90" fill="#d6d6d6" stroke="#b6b6b6" stroke-width="0.4"/><circle cx="611.9" cy="345.47" r="8.03" fill="#e4e4e4" stroke="#b6b6b6" stroke-width="0.4"/><circle cx="611.9" cy="346.53" r="8.17" fill="#d6d6d6" stroke="#b6b6b6" stroke-width="0.4"/><circle cx="611.9" cy="347.60" r="8.3" fill="url(#jg)" stroke="#b6b6b6" stroke-width="0.4"/><circle cx="611.9" cy="348.30" r="6.50" fill="#dcdcdc" stroke="#b6b6b6" stroke-width="0.4"/><circle cx="611.9" cy="348.8" r="5.25" fill="#d4d4d4" stroke="#b6b6b6" stroke-width="0.36"/><circle cx="611.9" cy="348.8" r="3.78" fill="#a8a8a8" stroke="#f0573f" stroke-width="1.85"/></g><g opacity="1.0"><circle cx="641" cy="293.10" r="7.90" fill="#d6d6d6" stroke="#b6b6b6" stroke-width="0.4"/><circle cx="641" cy="294.17" r="8.03" fill="#e4e4e4" stroke="#b6b6b6" stroke-width="0.4"/><circle cx="641" cy="295.23" r="8.17" fill="#d6d6d6" stroke="#b6b6b6" stroke-width="0.4"/><circle cx="641" cy="296.30" r="8.3" fill="url(#jg)" stroke="#b6b6b6" stroke-width="0.4"/><circle cx="641" cy="297.00" r="6.50" fill="#dcdcdc" stroke="#b6b6b6" stroke-width="0.4"/><circle cx="641" cy="297.5" r="5.25" fill="#d4d4d4" stroke="#b6b6b6" stroke-width="0.36"/><circle cx="641" cy="297.5" r="3.78" fill="#a8a8a8" stroke="#98dc98" stroke-width="1.85"/></g><g opacity="1.0"><circle cx="641" cy="318.40" r="7.90" fill="#d6d6d6" stroke="#b6b6b6" stroke-width="0.4"/><circle cx="641" cy="319.47" r="8.03" fill="#e4e4e4" stroke="#b6b6b6" stroke-width="0.4"/><circle cx="641" cy="320.53" r="8.17" fill="#d6d6d6" stroke="#b6b6b6" stroke-width="0.4"/><circle cx="641" cy="321.60" r="8.3" fill="url(#jg)" stroke="#b6b6b6" stroke-width="0.4"/><circle cx="641" cy="322.30" r="6.50" fill="#dcdcdc" stroke="#b6b6b6" stroke-width="0.4"/><circle cx="641" cy="322.8" r="5.25" fill="#d4d4d4" stroke="#b6b6b6" stroke-width="0.36"/><circle cx="641" cy="322.8" r="3.78" fill="#a8a8a8" stroke="#a4bdf0" stroke-width="1.85"/></g><g opacity="1.0"><circle cx="641" cy="344.40" r="7.90" fill="#d6d6d6" stroke="#b6b6b6" stroke-width="0.4"/><circle cx="641" cy="345.47" r="8.03" fill="#e4e4e4" stroke="#b6b6b6" stroke-width="0.4"/><circle cx="641" cy="346.53" r="8.17" fill="#d6d6d6" stroke="#b6b6b6" stroke-width="0.4"/><circle cx="641" cy="347.60" r="8.3" fill="url(#jg)" stroke="#b6b6b6" stroke-width="0.4"/><circle cx="641" cy="348.30" r="6.50" fill="#dcdcdc" stroke="#b6b6b6" stroke-width="0.4"/><circle cx="641" cy="348.8" r="5.25" fill="#d4d4d4" stroke="#b6b6b6" stroke-width="0.36"/><circle cx="641" cy="348.8" r="3.78" fill="#a8a8a8" stroke="#f0573f" stroke-width="1.85"/></g><circle cx="687.9" cy="293.8" r="10.4" fill="#adadad"/><circle cx="687.9" cy="293.8" r="8.60" fill="#7b7b7b"/><rect x="686.35" y="290.40" width="3.1" height="4.5" fill="#8a8a8a" stroke="#dcdcdc" stroke-width="0.85"/><rect x="681.90" y="294.70" width="1.6" height="1.4" fill="#565656"/><rect x="692.50" y="294.70" width="1.6" height="1.4" fill="#565656"/><rect x="685.00" y="298.10" width="1.6" height="1.4" fill="#565656"/><rect x="689.40" y="298.10" width="1.6" height="1.4" fill="#565656"/><rect x="682.90" y="289.10" width="1.2" height="1.0" fill="#666"/><rect x="691.90" y="289.10" width="1.2" height="1.0" fill="#666"/><rect x="686.70" y="285.00" width="2.4" height="1.1" fill="#9c9c9c"/><g opacity="1.0"><circle cx="687.9" cy="344.40" r="7.90" fill="#d6d6d6" stroke="#b6b6b6" stroke-width="0.4"/><circle cx="687.9" cy="345.47" r="8.03" fill="#e4e4e4" stroke="#b6b6b6" stroke-width="0.4"/><circle cx="687.9" cy="346.53" r="8.17" fill="#d6d6d6" stroke="#b6b6b6" stroke-width="0.4"/><circle cx="687.9" cy="347.60" r="8.3" fill="url(#jg)" stroke="#b6b6b6" stroke-width="0.4"/><circle cx="687.9" cy="348.30" r="6.50" fill="#dcdcdc" stroke="#b6b6b6" stroke-width="0.4"/><circle cx="687.9" cy="348.8" r="5.25" fill="#d4d4d4" stroke="#b6b6b6" stroke-width="0.36"/><circle cx="687.9" cy="348.8" r="3.78" fill="#a8a8a8" stroke="#f6ee62" stroke-width="1.85"/></g></g>
<g transform="translate(-95.9,235.1)"><rect x="345.4" y="262.45" width="370" height="163.8" fill="#fff" stroke="#151515" stroke-width="1.2"/><path d="M356.6,275.3 H354.5 Q351.3,275.3 351.3,278.5 V389.40000000000003 Q351.3,392.6 354.5,392.6 H387.2 Q390.4,392.6 390.4,389.40000000000003 V278.5 Q390.4,275.3 387.2,275.3 H385.8" fill="none" stroke="#959595" stroke-width="0.8"/><path d="M399.4,275.3 H397.8 Q394.6,275.3 394.6,278.5 V414.8 Q394.6,418 397.8,418 H435.90000000000003 Q439.1,418 439.1,414.8 V278.5 Q439.1,275.3 435.90000000000003,275.3 H434.6" fill="none" stroke="#959595" stroke-width="0.8"/><path d="M455.4,275.3 H446.09999999999997 Q442.9,275.3 442.9,278.5 V414.8 Q442.9,418 446.09999999999997,418 H484.3 Q487.5,418 487.5,414.8 V278.5 Q487.5,275.3 484.3,275.3 H474.9" fill="none" stroke="#959595" stroke-width="0.8"/><path d="M512.8,275.2 H494.59999999999997 Q491.4,275.2 491.4,278.4 V414.3 Q491.4,417.5 494.59999999999997,417.5 H561.4 Q564.6,417.5 564.6,414.3 V278.4 Q564.6,275.2 561.4,275.2 H546.2" fill="none" stroke="#1c1c1c" stroke-width="1.0"/><path d="M575.5,275.1 H571.7 Q568.5,275.1 568.5,278.3 V368.6 Q568.5,371.8 571.7,371.8 H659.3 Q662.5,371.8 662.5,368.6 V278.3 Q662.5,275.1 659.3,275.1 H653.3" fill="none" stroke="#959595" stroke-width="0.8"/><path d="M671.4,275.1 H669.6 Q666.4,275.1 666.4,278.3 V368.6 Q666.4,371.8 669.6,371.8 H706.5 Q709.7,371.8 709.7,368.6 V278.3 Q709.7,275.1 706.5,275.1 H704.7" fill="none" stroke="#959595" stroke-width="0.8"/><rect x="363.25" y="289.0" width="15.5" height="14.6" fill="#fff" stroke="#a6a6a6" stroke-width="0.55"/><rect x="365.05" y="291.0" width="13.50" height="12.40" fill="#969696"/><path d="M367.95,292.9 h6.1 v4.20 q0,2.6 -2.6,2.6 h-0.90 q-2.6,0 -2.6,-2.6 z" fill="#7c7c7c"/><path d="M367.25,295.09999999999997 v2.40 q0,3.0 3.0,3.0 h1.50 q3.0,0 3.0,-3.0 v-2.40" fill="none" stroke="#c8c8c8" stroke-width="0.5" stroke-dasharray="1 1.2"/><rect x="363.25" y="310.4" width="15.5" height="14.3" fill="#fff" stroke="#a6a6a6" stroke-width="0.55"/><rect x="365.05" y="312.4" width="13.50" height="12.10" fill="#969696"/><path d="M367.95,314.29999999999995 h6.1 v4.20 q0,2.6 -2.6,2.6 h-0.90 q-2.6,0 -2.6,-2.6 z" fill="#7c7c7c"/><path d="M367.25,316.49999999999994 v2.40 q0,3.0 3.0,3.0 h1.50 q3.0,0 3.0,-3.0 v-2.40" fill="none" stroke="#c8c8c8" stroke-width="0.5" stroke-dasharray="1 1.2"/><g opacity="1.0"><circle cx="371" cy="340.90" r="7.90" fill="#d6d6d6" stroke="#b6b6b6" stroke-width="0.4"/><circle cx="371" cy="341.97" r="8.03" fill="#e4e4e4" stroke="#b6b6b6" stroke-width="0.4"/><circle cx="371" cy="343.03" r="8.17" fill="#d6d6d6" stroke="#b6b6b6" stroke-width="0.4"/><circle cx="371" cy="344.10" r="8.3" fill="url(#jg)" stroke="#b6b6b6" stroke-width="0.4"/><circle cx="371" cy="344.80" r="6.50" fill="#dcdcdc" stroke="#b6b6b6" stroke-width="0.4"/><circle cx="371" cy="345.3" r="5.25" fill="#d4d4d4" stroke="#b6b6b6" stroke-width="0.36"/><circle cx="371" cy="345.3" r="3.78" fill="#a8a8a8" stroke="#f5a54a" stroke-width="1.85"/></g><g opacity="1.0"><circle cx="371" cy="369.20" r="7.90" fill="#d6d6d6" stroke="#b6b6b6" stroke-width="0.4"/><circle cx="371" cy="370.27" r="8.03" fill="#e4e4e4" stroke="#b6b6b6" stroke-width="0.4"/><circle cx="371" cy="371.33" r="8.17" fill="#d6d6d6" stroke="#b6b6b6" stroke-width="0.4"/><circle cx="371" cy="372.40" r="8.3" fill="url(#jg)" stroke="#b6b6b6" stroke-width="0.4"/><circle cx="371" cy="373.10" r="6.50" fill="#dcdcdc" stroke="#b6b6b6" stroke-width="0.4"/><circle cx="371" cy="373.6" r="5.25" fill="#d4d4d4" stroke="#b6b6b6" stroke-width="0.36"/><circle cx="371" cy="373.6" r="3.78" fill="#a8a8a8" stroke="#f5a54a" stroke-width="1.85"/></g><circle cx="416.4" cy="294.1" r="10.4" fill="#adadad"/><circle cx="416.4" cy="294.1" r="8.60" fill="#7b7b7b"/><rect x="414.85" y="290.70" width="3.1" height="4.5" fill="#8a8a8a" stroke="#dcdcdc" stroke-width="0.85"/><rect x="410.40" y="295.00" width="1.6" height="1.4" fill="#565656"/><rect x="421.00" y="295.00" width="1.6" height="1.4" fill="#565656"/><rect x="413.50" y="298.40" width="1.6" height="1.4" fill="#565656"/><rect x="417.90" y="298.40" width="1.6" height="1.4" fill="#565656"/><rect x="411.40" y="289.40" width="1.2" height="1.0" fill="#666"/><rect x="420.40" y="289.40" width="1.2" height="1.0" fill="#666"/><rect x="415.20" y="285.30" width="2.4" height="1.1" fill="#9c9c9c"/><g opacity="1.0"><circle cx="416.4" cy="341.00" r="7.90" fill="#d6d6d6" stroke="#b6b6b6" stroke-width="0.4"/><circle cx="416.4" cy="342.07" r="8.03" fill="#e4e4e4" stroke="#b6b6b6" stroke-width="0.4"/><circle cx="416.4" cy="343.13" r="8.17" fill="#d6d6d6" stroke="#b6b6b6" stroke-width="0.4"/><circle cx="416.4" cy="344.20" r="8.3" fill="url(#jg)" stroke="#b6b6b6" stroke-width="0.4"/><circle cx="416.4" cy="344.90" r="6.50" fill="#dcdcdc" stroke="#b6b6b6" stroke-width="0.4"/><circle cx="416.4" cy="345.4" r="5.25" fill="#d4d4d4" stroke="#b6b6b6" stroke-width="0.36"/><circle cx="416.4" cy="345.4" r="3.78" fill="#a8a8a8" stroke="#f4ea3a" stroke-width="1.85"/></g><g opacity="1.0"><circle cx="416.4" cy="366.80" r="7.90" fill="#d6d6d6" stroke="#b6b6b6" stroke-width="0.4"/><circle cx="416.4" cy="367.87" r="8.03" fill="#e4e4e4" stroke="#b6b6b6" stroke-width="0.4"/><circle cx="416.4" cy="368.93" r="8.17" fill="#d6d6d6" stroke="#b6b6b6" stroke-width="0.4"/><circle cx="416.4" cy="370.00" r="8.3" fill="url(#jg)" stroke="#b6b6b6" stroke-width="0.4"/><circle cx="416.4" cy="370.70" r="6.50" fill="#dcdcdc" stroke="#b6b6b6" stroke-width="0.4"/><circle cx="416.4" cy="371.2" r="5.25" fill="#d4d4d4" stroke="#b6b6b6" stroke-width="0.36"/><circle cx="416.4" cy="371.2" r="3.78" fill="#a8a8a8" stroke="#ffffff" stroke-width="1.85"/></g><g opacity="1.0"><circle cx="416.4" cy="392.60" r="7.90" fill="#d6d6d6" stroke="#b6b6b6" stroke-width="0.4"/><circle cx="416.4" cy="393.67" r="8.03" fill="#e4e4e4" stroke="#b6b6b6" stroke-width="0.4"/><circle cx="416.4" cy="394.73" r="8.17" fill="#d6d6d6" stroke="#b6b6b6" stroke-width="0.4"/><circle cx="416.4" cy="395.80" r="8.3" fill="url(#jg)" stroke="#b6b6b6" stroke-width="0.4"/><circle cx="416.4" cy="396.50" r="6.50" fill="#dcdcdc" stroke="#b6b6b6" stroke-width="0.4"/><circle cx="416.4" cy="397" r="5.25" fill="#d4d4d4" stroke="#b6b6b6" stroke-width="0.36"/><circle cx="416.4" cy="397" r="3.78" fill="#a8a8a8" stroke="#f26a52" stroke-width="1.85"/></g><circle cx="464.8" cy="294.1" r="10.4" fill="#adadad"/><circle cx="464.8" cy="294.1" r="8.60" fill="#7b7b7b"/><rect x="463.25" y="290.70" width="3.1" height="4.5" fill="#8a8a8a" stroke="#dcdcdc" stroke-width="0.85"/><rect x="458.80" y="295.00" width="1.6" height="1.4" fill="#565656"/><rect x="469.40" y="295.00" width="1.6" height="1.4" fill="#565656"/><rect x="461.90" y="298.40" width="1.6" height="1.4" fill="#565656"/><rect x="466.30" y="298.40" width="1.6" height="1.4" fill="#565656"/><rect x="459.80" y="289.40" width="1.2" height="1.0" fill="#666"/><rect x="468.80" y="289.40" width="1.2" height="1.0" fill="#666"/><rect x="463.60" y="285.30" width="2.4" height="1.1" fill="#9c9c9c"/><g opacity="1.0"><circle cx="464.8" cy="341.00" r="7.90" fill="#d6d6d6" stroke="#b6b6b6" stroke-width="0.4"/><circle cx="464.8" cy="342.07" r="8.03" fill="#e4e4e4" stroke="#b6b6b6" stroke-width="0.4"/><circle cx="464.8" cy="343.13" r="8.17" fill="#d6d6d6" stroke="#b6b6b6" stroke-width="0.4"/><circle cx="464.8" cy="344.20" r="8.3" fill="url(#jg)" stroke="#b6b6b6" stroke-width="0.4"/><circle cx="464.8" cy="344.90" r="6.50" fill="#dcdcdc" stroke="#b6b6b6" stroke-width="0.4"/><circle cx="464.8" cy="345.4" r="5.25" fill="#d4d4d4" stroke="#b6b6b6" stroke-width="0.36"/><circle cx="464.8" cy="345.4" r="3.78" fill="#a8a8a8" stroke="#f4ea3a" stroke-width="1.85"/></g><g opacity="1.0"><circle cx="464.8" cy="366.80" r="7.90" fill="#d6d6d6" stroke="#b6b6b6" stroke-width="0.4"/><circle cx="464.8" cy="367.87" r="8.03" fill="#e4e4e4" stroke="#b6b6b6" stroke-width="0.4"/><circle cx="464.8" cy="368.93" r="8.17" fill="#d6d6d6" stroke="#b6b6b6" stroke-width="0.4"/><circle cx="464.8" cy="370.00" r="8.3" fill="url(#jg)" stroke="#b6b6b6" stroke-width="0.4"/><circle cx="464.8" cy="370.70" r="6.50" fill="#dcdcdc" stroke="#b6b6b6" stroke-width="0.4"/><circle cx="464.8" cy="371.2" r="5.25" fill="#d4d4d4" stroke="#b6b6b6" stroke-width="0.36"/><circle cx="464.8" cy="371.2" r="3.78" fill="#a8a8a8" stroke="#ffffff" stroke-width="1.85"/></g><g opacity="1.0"><circle cx="464.8" cy="392.60" r="7.90" fill="#d6d6d6" stroke="#b6b6b6" stroke-width="0.4"/><circle cx="464.8" cy="393.67" r="8.03" fill="#e4e4e4" stroke="#b6b6b6" stroke-width="0.4"/><circle cx="464.8" cy="394.73" r="8.17" fill="#d6d6d6" stroke="#b6b6b6" stroke-width="0.4"/><circle cx="464.8" cy="395.80" r="8.3" fill="url(#jg)" stroke="#b6b6b6" stroke-width="0.4"/><circle cx="464.8" cy="396.50" r="6.50" fill="#dcdcdc" stroke="#b6b6b6" stroke-width="0.4"/><circle cx="464.8" cy="397" r="5.25" fill="#d4d4d4" stroke="#b6b6b6" stroke-width="0.36"/><circle cx="464.8" cy="397" r="3.78" fill="#a8a8a8" stroke="#f26a52" stroke-width="1.85"/></g><path d="M426.4,363.3 V377.5 M426.4,385.2 V400.8" stroke="#555" stroke-width="0.8"/><path d="M475.3,363.3 V377.5 M475.3,385.2 V400.8" stroke="#555" stroke-width="0.8"/><circle cx="511.8" cy="293.9" r="10.4" fill="#adadad"/><circle cx="511.8" cy="293.9" r="8.60" fill="#7b7b7b"/><rect x="510.25" y="290.50" width="3.1" height="4.5" fill="#8a8a8a" stroke="#dcdcdc" stroke-width="0.85"/><rect x="505.80" y="294.80" width="1.6" height="1.4" fill="#565656"/><rect x="516.40" y="294.80" width="1.6" height="1.4" fill="#565656"/><rect x="508.90" y="298.20" width="1.6" height="1.4" fill="#565656"/><rect x="513.30" y="298.20" width="1.6" height="1.4" fill="#565656"/><rect x="506.80" y="289.20" width="1.2" height="1.0" fill="#666"/><rect x="515.80" y="289.20" width="1.2" height="1.0" fill="#666"/><rect x="510.60" y="285.10" width="2.4" height="1.1" fill="#9c9c9c"/><circle cx="547.3" cy="293.9" r="10.4" fill="#adadad"/><circle cx="547.3" cy="293.9" r="8.60" fill="#7b7b7b"/><rect x="545.75" y="290.50" width="3.1" height="4.5" fill="#8a8a8a" stroke="#dcdcdc" stroke-width="0.85"/><rect x="541.30" y="294.80" width="1.6" height="1.4" fill="#565656"/><rect x="551.90" y="294.80" width="1.6" height="1.4" fill="#565656"/><rect x="544.40" y="298.20" width="1.6" height="1.4" fill="#565656"/><rect x="548.80" y="298.20" width="1.6" height="1.4" fill="#565656"/><rect x="542.30" y="289.20" width="1.2" height="1.0" fill="#666"/><rect x="551.30" y="289.20" width="1.2" height="1.0" fill="#666"/><rect x="546.10" y="285.10" width="2.4" height="1.1" fill="#9c9c9c"/><g opacity="1.0"><circle cx="511.4" cy="340.90" r="7.90" fill="#dedede" stroke="#808080" stroke-width="0.38"/><circle cx="511.4" cy="341.97" r="8.03" fill="#eeeeee" stroke="#808080" stroke-width="0.38"/><circle cx="511.4" cy="343.03" r="8.17" fill="#dedede" stroke="#808080" stroke-width="0.38"/><circle cx="511.4" cy="344.10" r="8.3" fill="url(#jg2)" stroke="#808080" stroke-width="0.38"/><circle cx="511.4" cy="344.80" r="6.50" fill="#ececec" stroke="#808080" stroke-width="0.38"/><circle cx="511.4" cy="345.3" r="5.25" fill="#f4f4f4" stroke="#808080" stroke-width="0.34"/><circle cx="511.4" cy="345.3" r="3.78" fill="#1d1a1b" stroke="#f4ea10" stroke-width="1.85"/></g><g opacity="1.0"><circle cx="511.4" cy="366.80" r="7.90" fill="#dedede" stroke="#808080" stroke-width="0.38"/><circle cx="511.4" cy="367.87" r="8.03" fill="#eeeeee" stroke="#808080" stroke-width="0.38"/><circle cx="511.4" cy="368.93" r="8.17" fill="#dedede" stroke="#808080" stroke-width="0.38"/><circle cx="511.4" cy="370.00" r="8.3" fill="url(#jg2)" stroke="#808080" stroke-width="0.38"/><circle cx="511.4" cy="370.70" r="6.50" fill="#ececec" stroke="#808080" stroke-width="0.38"/><circle cx="511.4" cy="371.2" r="5.25" fill="#f4f4f4" stroke="#808080" stroke-width="0.34"/><circle cx="511.4" cy="371.2" r="3.78" fill="#1d1a1b" stroke="#ffffff" stroke-width="1.85"/></g><g opacity="1.0"><circle cx="511.4" cy="392.50" r="7.90" fill="#dedede" stroke="#808080" stroke-width="0.38"/><circle cx="511.4" cy="393.57" r="8.03" fill="#eeeeee" stroke="#808080" stroke-width="0.38"/><circle cx="511.4" cy="394.63" r="8.17" fill="#dedede" stroke="#808080" stroke-width="0.38"/><circle cx="511.4" cy="395.70" r="8.3" fill="url(#jg2)" stroke="#808080" stroke-width="0.38"/><circle cx="511.4" cy="396.40" r="6.50" fill="#ececec" stroke="#808080" stroke-width="0.38"/><circle cx="511.4" cy="396.9" r="5.25" fill="#f4f4f4" stroke="#808080" stroke-width="0.34"/><circle cx="511.4" cy="396.9" r="3.78" fill="#1d1a1b" stroke="#ee1c24" stroke-width="1.85"/></g><g opacity="1.0"><circle cx="547.3" cy="340.90" r="7.90" fill="#d6d6d6" stroke="#b6b6b6" stroke-width="0.4"/><circle cx="547.3" cy="341.97" r="8.03" fill="#e4e4e4" stroke="#b6b6b6" stroke-width="0.4"/><circle cx="547.3" cy="343.03" r="8.17" fill="#d6d6d6" stroke="#b6b6b6" stroke-width="0.4"/><circle cx="547.3" cy="344.10" r="8.3" fill="url(#jg)" stroke="#b6b6b6" stroke-width="0.4"/><circle cx="547.3" cy="344.80" r="6.50" fill="#dcdcdc" stroke="#b6b6b6" stroke-width="0.4"/><circle cx="547.3" cy="345.3" r="5.25" fill="#d4d4d4" stroke="#b6b6b6" stroke-width="0.36"/><circle cx="547.3" cy="345.3" r="3.78" fill="#a8a8a8" stroke="#f4ea3a" stroke-width="1.85"/></g><g opacity="1.0"><circle cx="547.3" cy="366.80" r="7.90" fill="#d6d6d6" stroke="#b6b6b6" stroke-width="0.4"/><circle cx="547.3" cy="367.87" r="8.03" fill="#e4e4e4" stroke="#b6b6b6" stroke-width="0.4"/><circle cx="547.3" cy="368.93" r="8.17" fill="#d6d6d6" stroke="#b6b6b6" stroke-width="0.4"/><circle cx="547.3" cy="370.00" r="8.3" fill="url(#jg)" stroke="#b6b6b6" stroke-width="0.4"/><circle cx="547.3" cy="370.70" r="6.50" fill="#dcdcdc" stroke="#b6b6b6" stroke-width="0.4"/><circle cx="547.3" cy="371.2" r="5.25" fill="#d4d4d4" stroke="#b6b6b6" stroke-width="0.36"/><circle cx="547.3" cy="371.2" r="3.78" fill="#a8a8a8" stroke="#ffffff" stroke-width="1.85"/></g><g opacity="1.0"><circle cx="547.3" cy="392.70" r="7.90" fill="#d6d6d6" stroke="#b6b6b6" stroke-width="0.4"/><circle cx="547.3" cy="393.77" r="8.03" fill="#e4e4e4" stroke="#b6b6b6" stroke-width="0.4"/><circle cx="547.3" cy="394.83" r="8.17" fill="#d6d6d6" stroke="#b6b6b6" stroke-width="0.4"/><circle cx="547.3" cy="395.90" r="8.3" fill="url(#jg)" stroke="#b6b6b6" stroke-width="0.4"/><circle cx="547.3" cy="396.60" r="6.50" fill="#dcdcdc" stroke="#b6b6b6" stroke-width="0.4"/><circle cx="547.3" cy="397.1" r="5.25" fill="#d4d4d4" stroke="#b6b6b6" stroke-width="0.36"/><circle cx="547.3" cy="397.1" r="3.78" fill="#a8a8a8" stroke="#f26a52" stroke-width="1.85"/></g><path d="M521.4,363.3 V377.5 M521.4,385.2 V400.8" stroke="#151515" stroke-width="1.0"/><path d="M558.3,363.3 V377.5 M558.3,385.2 V400.8" stroke="#151515" stroke-width="1.0"/><g opacity="1.0"><circle cx="582.7" cy="293.10" r="7.90" fill="#d6d6d6" stroke="#b6b6b6" stroke-width="0.4"/><circle cx="582.7" cy="294.17" r="8.03" fill="#e4e4e4" stroke="#b6b6b6" stroke-width="0.4"/><circle cx="582.7" cy="295.23" r="8.17" fill="#d6d6d6" stroke="#b6b6b6" stroke-width="0.4"/><circle cx="582.7" cy="296.30" r="8.3" fill="url(#jg)" stroke="#b6b6b6" stroke-width="0.4"/><circle cx="582.7" cy="297.00" r="6.50" fill="#dcdcdc" stroke="#b6b6b6" stroke-width="0.4"/><circle cx="582.7" cy="297.5" r="5.25" fill="#d4d4d4" stroke="#b6b6b6" stroke-width="0.36"/><circle cx="582.7" cy="297.5" r="3.78" fill="#a8a8a8" stroke="#98dc98" stroke-width="1.85"/></g><g opacity="1.0"><circle cx="582.7" cy="318.40" r="7.90" fill="#d6d6d6" stroke="#b6b6b6" stroke-width="0.4"/><circle cx="582.7" cy="319.47" r="8.03" fill="#e4e4e4" stroke="#b6b6b6" stroke-width="0.4"/><circle cx="582.7" cy="320.53" r="8.17" fill="#d6d6d6" stroke="#b6b6b6" stroke-width="0.4"/><circle cx="582.7" cy="321.60" r="8.3" fill="url(#jg)" stroke="#b6b6b6" stroke-width="0.4"/><circle cx="582.7" cy="322.30" r="6.50" fill="#dcdcdc" stroke="#b6b6b6" stroke-width="0.4"/><circle cx="582.7" cy="322.8" r="5.25" fill="#d4d4d4" stroke="#b6b6b6" stroke-width="0.36"/><circle cx="582.7" cy="322.8" r="3.78" fill="#a8a8a8" stroke="#a4bdf0" stroke-width="1.85"/></g><g opacity="1.0"><circle cx="582.7" cy="344.40" r="7.90" fill="#d6d6d6" stroke="#b6b6b6" stroke-width="0.4"/><circle cx="582.7" cy="345.47" r="8.03" fill="#e4e4e4" stroke="#b6b6b6" stroke-width="0.4"/><circle cx="582.7" cy="346.53" r="8.17" fill="#d6d6d6" stroke="#b6b6b6" stroke-width="0.4"/><circle cx="582.7" cy="347.60" r="8.3" fill="url(#jg)" stroke="#b6b6b6" stroke-width="0.4"/><circle cx="582.7" cy="348.30" r="6.50" fill="#dcdcdc" stroke="#b6b6b6" stroke-width="0.4"/><circle cx="582.7" cy="348.8" r="5.25" fill="#d4d4d4" stroke="#b6b6b6" stroke-width="0.36"/><circle cx="582.7" cy="348.8" r="3.78" fill="#a8a8a8" stroke="#f0573f" stroke-width="1.85"/></g><g opacity="1.0"><circle cx="611.9" cy="293.10" r="7.90" fill="#d6d6d6" stroke="#b6b6b6" stroke-width="0.4"/><circle cx="611.9" cy="294.17" r="8.03" fill="#e4e4e4" stroke="#b6b6b6" stroke-width="0.4"/><circle cx="611.9" cy="295.23" r="8.17" fill="#d6d6d6" stroke="#b6b6b6" stroke-width="0.4"/><circle cx="611.9" cy="296.30" r="8.3" fill="url(#jg)" stroke="#b6b6b6" stroke-width="0.4"/><circle cx="611.9" cy="297.00" r="6.50" fill="#dcdcdc" stroke="#b6b6b6" stroke-width="0.4"/><circle cx="611.9" cy="297.5" r="5.25" fill="#d4d4d4" stroke="#b6b6b6" stroke-width="0.36"/><circle cx="611.9" cy="297.5" r="3.78" fill="#a8a8a8" stroke="#98dc98" stroke-width="1.85"/></g><g opacity="1.0"><circle cx="611.9" cy="318.40" r="7.90" fill="#d6d6d6" stroke="#b6b6b6" stroke-width="0.4"/><circle cx="611.9" cy="319.47" r="8.03" fill="#e4e4e4" stroke="#b6b6b6" stroke-width="0.4"/><circle cx="611.9" cy="320.53" r="8.17" fill="#d6d6d6" stroke="#b6b6b6" stroke-width="0.4"/><circle cx="611.9" cy="321.60" r="8.3" fill="url(#jg)" stroke="#b6b6b6" stroke-width="0.4"/><circle cx="611.9" cy="322.30" r="6.50" fill="#dcdcdc" stroke="#b6b6b6" stroke-width="0.4"/><circle cx="611.9" cy="322.8" r="5.25" fill="#d4d4d4" stroke="#b6b6b6" stroke-width="0.36"/><circle cx="611.9" cy="322.8" r="3.78" fill="#a8a8a8" stroke="#a4bdf0" stroke-width="1.85"/></g><g opacity="1.0"><circle cx="611.9" cy="344.40" r="7.90" fill="#d6d6d6" stroke="#b6b6b6" stroke-width="0.4"/><circle cx="611.9" cy="345.47" r="8.03" fill="#e4e4e4" stroke="#b6b6b6" stroke-width="0.4"/><circle cx="611.9" cy="346.53" r="8.17" fill="#d6d6d6" stroke="#b6b6b6" stroke-width="0.4"/><circle cx="611.9" cy="347.60" r="8.3" fill="url(#jg)" stroke="#b6b6b6" stroke-width="0.4"/><circle cx="611.9" cy="348.30" r="6.50" fill="#dcdcdc" stroke="#b6b6b6" stroke-width="0.4"/><circle cx="611.9" cy="348.8" r="5.25" fill="#d4d4d4" stroke="#b6b6b6" stroke-width="0.36"/><circle cx="611.9" cy="348.8" r="3.78" fill="#a8a8a8" stroke="#f0573f" stroke-width="1.85"/></g><g opacity="1.0"><circle cx="641" cy="293.10" r="7.90" fill="#d6d6d6" stroke="#b6b6b6" stroke-width="0.4"/><circle cx="641" cy="294.17" r="8.03" fill="#e4e4e4" stroke="#b6b6b6" stroke-width="0.4"/><circle cx="641" cy="295.23" r="8.17" fill="#d6d6d6" stroke="#b6b6b6" stroke-width="0.4"/><circle cx="641" cy="296.30" r="8.3" fill="url(#jg)" stroke="#b6b6b6" stroke-width="0.4"/><circle cx="641" cy="297.00" r="6.50" fill="#dcdcdc" stroke="#b6b6b6" stroke-width="0.4"/><circle cx="641" cy="297.5" r="5.25" fill="#d4d4d4" stroke="#b6b6b6" stroke-width="0.36"/><circle cx="641" cy="297.5" r="3.78" fill="#a8a8a8" stroke="#98dc98" stroke-width="1.85"/></g><g opacity="1.0"><circle cx="641" cy="318.40" r="7.90" fill="#d6d6d6" stroke="#b6b6b6" stroke-width="0.4"/><circle cx="641" cy="319.47" r="8.03" fill="#e4e4e4" stroke="#b6b6b6" stroke-width="0.4"/><circle cx="641" cy="320.53" r="8.17" fill="#d6d6d6" stroke="#b6b6b6" stroke-width="0.4"/><circle cx="641" cy="321.60" r="8.3" fill="url(#jg)" stroke="#b6b6b6" stroke-width="0.4"/><circle cx="641" cy="322.30" r="6.50" fill="#dcdcdc" stroke="#b6b6b6" stroke-width="0.4"/><circle cx="641" cy="322.8" r="5.25" fill="#d4d4d4" stroke="#b6b6b6" stroke-width="0.36"/><circle cx="641" cy="322.8" r="3.78" fill="#a8a8a8" stroke="#a4bdf0" stroke-width="1.85"/></g><g opacity="1.0"><circle cx="641" cy="344.40" r="7.90" fill="#d6d6d6" stroke="#b6b6b6" stroke-width="0.4"/><circle cx="641" cy="345.47" r="8.03" fill="#e4e4e4" stroke="#b6b6b6" stroke-width="0.4"/><circle cx="641" cy="346.53" r="8.17" fill="#d6d6d6" stroke="#b6b6b6" stroke-width="0.4"/><circle cx="641" cy="347.60" r="8.3" fill="url(#jg)" stroke="#b6b6b6" stroke-width="0.4"/><circle cx="641" cy="348.30" r="6.50" fill="#dcdcdc" stroke="#b6b6b6" stroke-width="0.4"/><circle cx="641" cy="348.8" r="5.25" fill="#d4d4d4" stroke="#b6b6b6" stroke-width="0.36"/><circle cx="641" cy="348.8" r="3.78" fill="#a8a8a8" stroke="#f0573f" stroke-width="1.85"/></g><circle cx="687.9" cy="293.8" r="10.4" fill="#adadad"/><circle cx="687.9" cy="293.8" r="8.60" fill="#7b7b7b"/><rect x="686.35" y="290.40" width="3.1" height="4.5" fill="#8a8a8a" stroke="#dcdcdc" stroke-width="0.85"/><rect x="681.90" y="294.70" width="1.6" height="1.4" fill="#565656"/><rect x="692.50" y="294.70" width="1.6" height="1.4" fill="#565656"/><rect x="685.00" y="298.10" width="1.6" height="1.4" fill="#565656"/><rect x="689.40" y="298.10" width="1.6" height="1.4" fill="#565656"/><rect x="682.90" y="289.10" width="1.2" height="1.0" fill="#666"/><rect x="691.90" y="289.10" width="1.2" height="1.0" fill="#666"/><rect x="686.70" y="285.00" width="2.4" height="1.1" fill="#9c9c9c"/><g opacity="1.0"><circle cx="687.9" cy="344.40" r="7.90" fill="#d6d6d6" stroke="#b6b6b6" stroke-width="0.4"/><circle cx="687.9" cy="345.47" r="8.03" fill="#e4e4e4" stroke="#b6b6b6" stroke-width="0.4"/><circle cx="687.9" cy="346.53" r="8.17" fill="#d6d6d6" stroke="#b6b6b6" stroke-width="0.4"/><circle cx="687.9" cy="347.60" r="8.3" fill="url(#jg)" stroke="#b6b6b6" stroke-width="0.4"/><circle cx="687.9" cy="348.30" r="6.50" fill="#dcdcdc" stroke="#b6b6b6" stroke-width="0.4"/><circle cx="687.9" cy="348.8" r="5.25" fill="#d4d4d4" stroke="#b6b6b6" stroke-width="0.36"/><circle cx="687.9" cy="348.8" r="3.78" fill="#a8a8a8" stroke="#f6ee62" stroke-width="1.85"/></g></g>
<rect x="559.4" y="189.2" width="156.4" height="38" fill="#fff" stroke="#111" stroke-width="1.2"/>
<rect x="580.8" y="136.2" width="18.8" height="8.2" fill="#8a8a8a" stroke="#c8c8c8" stroke-width="0.9"/><rect x="582.0" y="138.79999999999998" width="13.5" height="5.6" fill="#4a4a4a"/>
<rect x="574.9" y="207.7" width="15.7" height="7.5" fill="#8a8a8a" stroke="#c8c8c8" stroke-width="0.9"/><rect x="576.1" y="210.29999999999998" width="11.3" height="4.9" fill="#4a4a4a"/>
<path d="M589.40,142.50 C589.48,144.52 588.90,150.78 589.90,154.60 C590.90,158.42 592.55,162.67 595.40,165.40 C598.25,168.13 602.07,169.85 607.00,171.00 C611.93,172.15 619.33,171.80 625.00,172.30 C630.67,172.80 635.78,172.72 641.00,174.00 C646.22,175.28 652.03,177.17 656.30,180.00 C660.57,182.83 664.38,187.00 666.60,191.00 C668.82,195.00 669.87,199.42 669.60,204.00 C669.33,208.58 667.77,214.25 665.00,218.50 C662.23,222.75 657.67,226.58 653.00,229.50 C648.33,232.42 642.50,234.55 637.00,236.00 C631.50,237.45 625.05,238.25 620.00,238.20 C614.95,238.15 610.37,236.78 606.70,235.70 C603.03,234.62 600.68,233.32 598.00,231.70 C595.32,230.08 592.67,228.02 590.60,226.00 C588.53,223.98 586.82,221.40 585.60,219.60 C584.38,217.80 583.75,216.55 583.30,215.20 C582.85,213.85 582.97,212.12 582.90,211.50" fill="none" stroke="#231f20" stroke-width="9.8" stroke-linecap="butt" stroke-linejoin="round"/>
<rect x="249.45" y="687.45" width="167.1" height="153.85" fill="#fff" stroke="#151515" stroke-width="1.15"/>
<g opacity="1.0"><circle cx="266.5" cy="712.70" r="7.90" fill="#dedede" stroke="#808080" stroke-width="0.38"/><circle cx="266.5" cy="713.53" r="8.07" fill="#eeeeee" stroke="#808080" stroke-width="0.38"/><circle cx="266.5" cy="714.37" r="8.23" fill="#dedede" stroke="#808080" stroke-width="0.38"/><circle cx="266.5" cy="715.20" r="8.4" fill="url(#jg2)" stroke="#808080" stroke-width="0.38"/><circle cx="266.5" cy="715.90" r="6.10" fill="#ececec" stroke="#808080" stroke-width="0.38"/><circle cx="266.5" cy="716.4" r="4.85" fill="#f4f4f4" stroke="#808080" stroke-width="0.34"/><circle cx="266.5" cy="716.4" r="3.40" fill="#7a7a7a" stroke="#ffffff" stroke-width="1.80"/></g>
<g opacity="1.0"><circle cx="266.5" cy="745.60" r="7.90" fill="#dedede" stroke="#808080" stroke-width="0.38"/><circle cx="266.5" cy="746.43" r="8.07" fill="#eeeeee" stroke="#808080" stroke-width="0.38"/><circle cx="266.5" cy="747.27" r="8.23" fill="#dedede" stroke="#808080" stroke-width="0.38"/><circle cx="266.5" cy="748.10" r="8.4" fill="url(#jg2)" stroke="#808080" stroke-width="0.38"/><circle cx="266.5" cy="748.80" r="6.10" fill="#ececec" stroke="#808080" stroke-width="0.38"/><circle cx="266.5" cy="749.3" r="4.85" fill="#f4f4f4" stroke="#808080" stroke-width="0.34"/><circle cx="266.5" cy="749.3" r="3.40" fill="#7a7a7a" stroke="#f26a52" stroke-width="1.80"/></g>
<g opacity="1.0"><circle cx="266.5" cy="787.30" r="7.90" fill="#dedede" stroke="#808080" stroke-width="0.38"/><circle cx="266.5" cy="788.13" r="8.07" fill="#eeeeee" stroke="#808080" stroke-width="0.38"/><circle cx="266.5" cy="788.97" r="8.23" fill="#dedede" stroke="#808080" stroke-width="0.38"/><circle cx="266.5" cy="789.80" r="8.4" fill="url(#jg2)" stroke="#808080" stroke-width="0.38"/><circle cx="266.5" cy="790.50" r="6.10" fill="#ececec" stroke="#808080" stroke-width="0.38"/><circle cx="266.5" cy="791" r="4.85" fill="#f4f4f4" stroke="#808080" stroke-width="0.34"/><circle cx="266.5" cy="791" r="3.40" fill="#1d1a1b" stroke="#ffffff" stroke-width="1.80"/></g>
<g opacity="1.0"><circle cx="266.5" cy="820.90" r="7.90" fill="#dedede" stroke="#808080" stroke-width="0.38"/><circle cx="266.5" cy="821.73" r="8.07" fill="#eeeeee" stroke="#808080" stroke-width="0.38"/><circle cx="266.5" cy="822.57" r="8.23" fill="#dedede" stroke="#808080" stroke-width="0.38"/><circle cx="266.5" cy="823.40" r="8.4" fill="url(#jg2)" stroke="#808080" stroke-width="0.38"/><circle cx="266.5" cy="824.10" r="6.10" fill="#ececec" stroke="#808080" stroke-width="0.38"/><circle cx="266.5" cy="824.6" r="4.85" fill="#f4f4f4" stroke="#808080" stroke-width="0.34"/><circle cx="266.5" cy="824.6" r="3.40" fill="#1d1a1b" stroke="#ee1c24" stroke-width="1.80"/></g>
<g opacity="1.0"><circle cx="287.6" cy="712.70" r="7.90" fill="#dedede" stroke="#808080" stroke-width="0.38"/><circle cx="287.6" cy="713.53" r="8.07" fill="#eeeeee" stroke="#808080" stroke-width="0.38"/><circle cx="287.6" cy="714.37" r="8.23" fill="#dedede" stroke="#808080" stroke-width="0.38"/><circle cx="287.6" cy="715.20" r="8.4" fill="url(#jg2)" stroke="#808080" stroke-width="0.38"/><circle cx="287.6" cy="715.90" r="6.10" fill="#ececec" stroke="#808080" stroke-width="0.38"/><circle cx="287.6" cy="716.4" r="4.85" fill="#f4f4f4" stroke="#808080" stroke-width="0.34"/><circle cx="287.6" cy="716.4" r="3.40" fill="#7a7a7a" stroke="#ffffff" stroke-width="1.80"/></g>
<g opacity="1.0"><circle cx="287.6" cy="745.60" r="7.90" fill="#dedede" stroke="#808080" stroke-width="0.38"/><circle cx="287.6" cy="746.43" r="8.07" fill="#eeeeee" stroke="#808080" stroke-width="0.38"/><circle cx="287.6" cy="747.27" r="8.23" fill="#dedede" stroke="#808080" stroke-width="0.38"/><circle cx="287.6" cy="748.10" r="8.4" fill="url(#jg2)" stroke="#808080" stroke-width="0.38"/><circle cx="287.6" cy="748.80" r="6.10" fill="#ececec" stroke="#808080" stroke-width="0.38"/><circle cx="287.6" cy="749.3" r="4.85" fill="#f4f4f4" stroke="#808080" stroke-width="0.34"/><circle cx="287.6" cy="749.3" r="3.40" fill="#7a7a7a" stroke="#f26a52" stroke-width="1.80"/></g>
<g opacity="1.0"><circle cx="287.6" cy="787.30" r="7.90" fill="#dedede" stroke="#808080" stroke-width="0.38"/><circle cx="287.6" cy="788.13" r="8.07" fill="#eeeeee" stroke="#808080" stroke-width="0.38"/><circle cx="287.6" cy="788.97" r="8.23" fill="#dedede" stroke="#808080" stroke-width="0.38"/><circle cx="287.6" cy="789.80" r="8.4" fill="url(#jg2)" stroke="#808080" stroke-width="0.38"/><circle cx="287.6" cy="790.50" r="6.10" fill="#ececec" stroke="#808080" stroke-width="0.38"/><circle cx="287.6" cy="791" r="4.85" fill="#f4f4f4" stroke="#808080" stroke-width="0.34"/><circle cx="287.6" cy="791" r="3.40" fill="#1d1a1b" stroke="#ffffff" stroke-width="1.80"/></g>
<g opacity="1.0"><circle cx="287.6" cy="820.90" r="7.90" fill="#dedede" stroke="#808080" stroke-width="0.38"/><circle cx="287.6" cy="821.73" r="8.07" fill="#eeeeee" stroke="#808080" stroke-width="0.38"/><circle cx="287.6" cy="822.57" r="8.23" fill="#dedede" stroke="#808080" stroke-width="0.38"/><circle cx="287.6" cy="823.40" r="8.4" fill="url(#jg2)" stroke="#808080" stroke-width="0.38"/><circle cx="287.6" cy="824.10" r="6.10" fill="#ececec" stroke="#808080" stroke-width="0.38"/><circle cx="287.6" cy="824.6" r="4.85" fill="#f4f4f4" stroke="#808080" stroke-width="0.34"/><circle cx="287.6" cy="824.6" r="3.40" fill="#1d1a1b" stroke="#ee1c24" stroke-width="1.80"/></g>
<g opacity="1.0"><circle cx="328.4" cy="726.60" r="7.90" fill="#d6d6d6" stroke="#b6b6b6" stroke-width="0.4"/><circle cx="328.4" cy="727.43" r="8.07" fill="#e4e4e4" stroke="#b6b6b6" stroke-width="0.4"/><circle cx="328.4" cy="728.27" r="8.23" fill="#d6d6d6" stroke="#b6b6b6" stroke-width="0.4"/><circle cx="328.4" cy="729.10" r="8.4" fill="url(#jg)" stroke="#b6b6b6" stroke-width="0.4"/><circle cx="328.4" cy="729.80" r="6.10" fill="#dcdcdc" stroke="#b6b6b6" stroke-width="0.4"/><circle cx="328.4" cy="730.3" r="4.85" fill="#d4d4d4" stroke="#b6b6b6" stroke-width="0.36"/><circle cx="328.4" cy="730.3" r="3.40" fill="#b0b0b0" stroke="#f4ea10" stroke-width="1.80"/></g>
<g opacity="1.0"><circle cx="328.4" cy="802.30" r="7.90" fill="#dedede" stroke="#808080" stroke-width="0.38"/><circle cx="328.4" cy="803.13" r="8.07" fill="#eeeeee" stroke="#808080" stroke-width="0.38"/><circle cx="328.4" cy="803.97" r="8.23" fill="#dedede" stroke="#808080" stroke-width="0.38"/><circle cx="328.4" cy="804.80" r="8.4" fill="url(#jg2)" stroke="#808080" stroke-width="0.38"/><circle cx="328.4" cy="805.50" r="6.10" fill="#ececec" stroke="#808080" stroke-width="0.38"/><circle cx="328.4" cy="806" r="4.85" fill="#f4f4f4" stroke="#808080" stroke-width="0.34"/><circle cx="328.4" cy="806" r="3.40" fill="#1d1a1b" stroke="#f4ea10" stroke-width="1.80"/></g>
<g opacity="1.0"><circle cx="350.8" cy="726.60" r="7.90" fill="#d6d6d6" stroke="#b6b6b6" stroke-width="0.4"/><circle cx="350.8" cy="727.43" r="8.07" fill="#e4e4e4" stroke="#b6b6b6" stroke-width="0.4"/><circle cx="350.8" cy="728.27" r="8.23" fill="#d6d6d6" stroke="#b6b6b6" stroke-width="0.4"/><circle cx="350.8" cy="729.10" r="8.4" fill="url(#jg)" stroke="#b6b6b6" stroke-width="0.4"/><circle cx="350.8" cy="729.80" r="6.10" fill="#dcdcdc" stroke="#b6b6b6" stroke-width="0.4"/><circle cx="350.8" cy="730.3" r="4.85" fill="#d4d4d4" stroke="#b6b6b6" stroke-width="0.36"/><circle cx="350.8" cy="730.3" r="3.40" fill="#b0b0b0" stroke="#f4ea10" stroke-width="1.80"/></g>
<g opacity="1.0"><circle cx="350.8" cy="802.30" r="7.90" fill="#dedede" stroke="#808080" stroke-width="0.38"/><circle cx="350.8" cy="803.13" r="8.07" fill="#eeeeee" stroke="#808080" stroke-width="0.38"/><circle cx="350.8" cy="803.97" r="8.23" fill="#dedede" stroke="#808080" stroke-width="0.38"/><circle cx="350.8" cy="804.80" r="8.4" fill="url(#jg2)" stroke="#808080" stroke-width="0.38"/><circle cx="350.8" cy="805.50" r="6.10" fill="#ececec" stroke="#808080" stroke-width="0.38"/><circle cx="350.8" cy="806" r="4.85" fill="#f4f4f4" stroke="#808080" stroke-width="0.34"/><circle cx="350.8" cy="806" r="3.40" fill="#1d1a1b" stroke="#f4ea10" stroke-width="1.80"/></g>
<rect x="527.95" y="690.65" width="190.2" height="151.4" fill="#fff" stroke="#bcbcbc" stroke-width="4.7"/>
<path d="M561.7,699.6 L587,741.6 H536.6 Z" fill="#fff" stroke="#111" stroke-width="1.55" stroke-linejoin="miter"/>
<path d="M560.4,712.9 L565,712 L563,722.8 L564.8,722.5 L561.2,734.6 L561.5,725.7 L559.2,726.2 Z" fill="#111"/>
<path d="M558.4,732.8 L560.6,738.8 L563.6,733.2 Z" fill="#111"/>
<path d="M336.70,117.50 C335.25,117.83 330.78,118.58 328.00,119.50 C325.22,120.42 322.50,121.48 320.00,123.00 C317.50,124.52 314.97,126.52 313.00,128.60 C311.03,130.68 309.37,133.27 308.20,135.50 C307.03,137.73 306.37,140.92 306.00,142.00" fill="none" stroke="#231f20" stroke-width="5.3" stroke-linecap="round" stroke-linejoin="round"/>
<path d="M338.30,100.80 C336.92,101.08 332.55,101.70 330.00,102.50 C327.45,103.30 325.33,104.18 323.00,105.60 C320.67,107.02 318.17,108.77 316.00,111.00 C313.83,113.23 311.73,115.83 310.00,119.00 C308.27,122.17 306.67,126.17 305.60,130.00 C304.53,133.83 303.93,140.00 303.60,142.00" fill="none" stroke="#231f20" stroke-width="5.3" stroke-linecap="round" stroke-linejoin="round"/>
<path d="M304.60,138.00 C304.43,140.00 303.60,145.83 303.60,150.00 C303.60,154.17 303.80,158.67 304.60,163.00 C305.40,167.33 306.58,171.58 308.40,176.00 C310.22,180.42 312.57,185.17 315.50,189.50 C318.43,193.83 321.92,197.67 326.00,202.00 C330.08,206.33 333.50,209.58 340.00,215.50 C346.50,221.42 356.67,230.50 365.00,237.50 C373.33,244.50 382.50,251.58 390.00,257.50 C397.50,263.42 403.83,268.00 410.00,273.00 C416.17,278.00 422.58,283.33 427.00,287.50 C431.42,291.67 434.92,296.25 436.50,298.00" fill="none" stroke="#231f20" stroke-width="7.2" stroke-linecap="round" stroke-linejoin="round"/>
<path d="M436.00,297.00 C437.75,298.57 443.17,303.32 446.50,306.40 C449.83,309.48 453.42,312.73 456.00,315.50 C458.58,318.27 460.37,320.88 462.00,323.00 C463.63,325.12 465.17,327.33 465.80,328.20" fill="none" stroke="#231f20" stroke-width="5.3" stroke-linecap="round" stroke-linejoin="round"/>
<path d="M435.50,296.00 C436.22,298.67 438.22,307.17 439.80,312.00 C441.38,316.83 442.97,320.58 445.00,325.00 C447.03,329.42 449.75,334.58 452.00,338.50 C454.25,342.42 456.50,345.55 458.50,348.50 C460.50,351.45 463.08,354.92 464.00,356.20" fill="none" stroke="#231f20" stroke-width="5.3" stroke-linecap="round" stroke-linejoin="round"/>
<path d="M378.90,196.50 C378.98,198.08 378.95,202.75 379.40,206.00 C379.85,209.25 380.47,212.67 381.60,216.00 C382.73,219.33 384.13,222.63 386.20,226.00 C388.27,229.37 390.45,232.67 394.00,236.20 C397.55,239.73 401.50,243.07 407.50,247.20 C413.50,251.33 423.08,256.20 430.00,261.00 C436.92,265.80 444.00,271.58 449.00,276.00 C454.00,280.42 456.80,283.90 460.00,287.50 C463.20,291.10 466.83,295.92 468.20,297.60" fill="none" stroke="#231f20" stroke-width="5.3" stroke-linecap="round" stroke-linejoin="round"/>
<g transform="translate(390.20,88.60) rotate(166.80) scale(1,-1)"><path d="M1.12,-1.25 H8.5 V1.25 H1.12 A1.25,1.25 0 0 1 1.12,-1.25 Z" fill="url(#pin)" stroke="#6a6a6a" stroke-width="0.4"/><path d="M7.5,-3.65 L8.9,-6.08 H14.0 V6.08 H8.9 L7.5,3.65 Z" fill="url(#metal)" stroke="#555" stroke-width="0.3"/><path d="M14.2,-6.40 L33.4,-6.21 Q35.0,-6.21 35.0,-4.61 V4.61 Q35.0,6.21 33.4,6.21 L14.2,6.40 Q12.8,6.40 12.8,5.20 V-5.20 Q12.8,-6.40 14.2,-6.40 Z" fill="url(#pb_w)" stroke="#8e8e8e" stroke-width="0.3"/><path d="M34.7,-5.21 H37.2 L38.4,-4.20 H52.5 V4.20 H38.4 L37.2,5.21 H34.7 Z" fill="url(#ps_w)" stroke="#3c3c3c" stroke-width="0.35"/><path d="M39.00,-3.20 V3.20" stroke="#3c3c3c" stroke-width="0.75" stroke-dasharray="1.3 0.7"/><path d="M40.76,-3.20 V3.20" stroke="#3c3c3c" stroke-width="0.75" stroke-dasharray="1.3 0.7"/><path d="M42.51,-3.20 V3.20" stroke="#3c3c3c" stroke-width="0.75" stroke-dasharray="1.3 0.7"/><path d="M44.27,-3.20 V3.20" stroke="#3c3c3c" stroke-width="0.75" stroke-dasharray="1.3 0.7"/><path d="M46.03,-3.20 V3.20" stroke="#3c3c3c" stroke-width="0.75" stroke-dasharray="1.3 0.7"/><path d="M47.79,-3.20 V3.20" stroke="#3c3c3c" stroke-width="0.75" stroke-dasharray="1.3 0.7"/><path d="M49.54,-3.20 V3.20" stroke="#3c3c3c" stroke-width="0.75" stroke-dasharray="1.3 0.7"/><path d="M51.30,-3.20 V3.20" stroke="#3c3c3c" stroke-width="0.75" stroke-dasharray="1.3 0.7"/></g>
<g transform="translate(389.40,105.70) rotate(167.40) scale(1,-1)"><path d="M1.12,-1.25 H8.5 V1.25 H1.12 A1.25,1.25 0 0 1 1.12,-1.25 Z" fill="url(#pin)" stroke="#6a6a6a" stroke-width="0.4"/><path d="M7.5,-3.65 L8.9,-6.08 H14.0 V6.08 H8.9 L7.5,3.65 Z" fill="url(#metal)" stroke="#555" stroke-width="0.3"/><path d="M14.2,-6.40 L33.4,-6.21 Q35.0,-6.21 35.0,-4.61 V4.61 Q35.0,6.21 33.4,6.21 L14.2,6.40 Q12.8,6.40 12.8,5.20 V-5.20 Q12.8,-6.40 14.2,-6.40 Z" fill="url(#pb_r)" stroke="#7d0008" stroke-width="0.3"/><path d="M34.7,-5.21 H37.2 L38.4,-4.20 H52.5 V4.20 H38.4 L37.2,5.21 H34.7 Z" fill="url(#ps_r)" stroke="#5a0006" stroke-width="0.35"/><path d="M39.00,-3.20 V3.20" stroke="#5a0006" stroke-width="0.75" stroke-dasharray="1.3 0.7"/><path d="M40.76,-3.20 V3.20" stroke="#5a0006" stroke-width="0.75" stroke-dasharray="1.3 0.7"/><path d="M42.51,-3.20 V3.20" stroke="#5a0006" stroke-width="0.75" stroke-dasharray="1.3 0.7"/><path d="M44.27,-3.20 V3.20" stroke="#5a0006" stroke-width="0.75" stroke-dasharray="1.3 0.7"/><path d="M46.03,-3.20 V3.20" stroke="#5a0006" stroke-width="0.75" stroke-dasharray="1.3 0.7"/><path d="M47.79,-3.20 V3.20" stroke="#5a0006" stroke-width="0.75" stroke-dasharray="1.3 0.7"/><path d="M49.54,-3.20 V3.20" stroke="#5a0006" stroke-width="0.75" stroke-dasharray="1.3 0.7"/><path d="M51.30,-3.20 V3.20" stroke="#5a0006" stroke-width="0.75" stroke-dasharray="1.3 0.7"/></g>
<g transform="translate(379.20,144.00) rotate(90.00) scale(1,-1)"><path d="M1.12,-1.25 H8.6 V1.25 H1.12 A1.25,1.25 0 0 1 1.12,-1.25 Z" fill="url(#pin)" stroke="#6a6a6a" stroke-width="0.4"/><path d="M7.6,-4.16 L9.0,-6.93 H14.2 V6.93 H9.0 L7.6,4.16 Z" fill="url(#metal)" stroke="#555" stroke-width="0.3"/><path d="M14.399999999999999,-7.30 L32.99999999999999,-7.08 Q34.599999999999994,-7.08 34.599999999999994,-5.48 V5.48 Q34.599999999999994,7.08 32.99999999999999,7.08 L14.399999999999999,7.30 Q13.0,7.30 13.0,6.10 V-6.10 Q13.0,-7.30 14.399999999999999,-7.30 Z" fill="url(#pb_y)" stroke="#8a8400" stroke-width="0.3"/><path d="M34.3,-5.08 H36.8 L37.99999999999999,-4.10 H53.39999999999999 V4.10 H37.99999999999999 L36.8,5.08 H34.3 Z" fill="url(#ps_y)" stroke="#5a5600" stroke-width="0.35"/><path d="M38.60,-3.10 V3.10" stroke="#5a5600" stroke-width="0.75" stroke-dasharray="1.3 0.7"/><path d="M40.54,-3.10 V3.10" stroke="#5a5600" stroke-width="0.75" stroke-dasharray="1.3 0.7"/><path d="M42.49,-3.10 V3.10" stroke="#5a5600" stroke-width="0.75" stroke-dasharray="1.3 0.7"/><path d="M44.43,-3.10 V3.10" stroke="#5a5600" stroke-width="0.75" stroke-dasharray="1.3 0.7"/><path d="M46.37,-3.10 V3.10" stroke="#5a5600" stroke-width="0.75" stroke-dasharray="1.3 0.7"/><path d="M48.31,-3.10 V3.10" stroke="#5a5600" stroke-width="0.75" stroke-dasharray="1.3 0.7"/><path d="M50.26,-3.10 V3.10" stroke="#5a5600" stroke-width="0.75" stroke-dasharray="1.3 0.7"/><path d="M52.20,-3.10 V3.10" stroke="#5a5600" stroke-width="0.75" stroke-dasharray="1.3 0.7"/></g>
<g transform="translate(498.60,341.20) rotate(-124.90) scale(1,-1)"><path d="M1.12,-1.25 H9 V1.25 H1.12 A1.25,1.25 0 0 1 1.12,-1.25 Z" fill="url(#pin)" stroke="#6a6a6a" stroke-width="0.4"/><path d="M8,-3.88 L9.4,-6.46 H14.5 V6.46 H9.4 L8,3.88 Z" fill="url(#metal)" stroke="#555" stroke-width="0.3"/><path d="M14.7,-6.80 L34.4,-6.60 Q36.0,-6.60 36.0,-5.00 V5.00 Q36.0,6.60 34.4,6.60 L14.7,6.80 Q13.3,6.80 13.3,5.60 V-5.60 Q13.3,-6.80 14.7,-6.80 Z" fill="url(#pb_y)" stroke="#8a8400" stroke-width="0.3"/><path d="M35.7,-4.84 H38.2 L39.4,-3.90 H53.6 V3.90 H39.4 L38.2,4.84 H35.7 Z" fill="url(#ps_y)" stroke="#5a5600" stroke-width="0.35"/><path d="M40.00,-2.90 V2.90" stroke="#5a5600" stroke-width="0.75" stroke-dasharray="1.3 0.7"/><path d="M41.77,-2.90 V2.90" stroke="#5a5600" stroke-width="0.75" stroke-dasharray="1.3 0.7"/><path d="M43.54,-2.90 V2.90" stroke="#5a5600" stroke-width="0.75" stroke-dasharray="1.3 0.7"/><path d="M45.31,-2.90 V2.90" stroke="#5a5600" stroke-width="0.75" stroke-dasharray="1.3 0.7"/><path d="M47.09,-2.90 V2.90" stroke="#5a5600" stroke-width="0.75" stroke-dasharray="1.3 0.7"/><path d="M48.86,-2.90 V2.90" stroke="#5a5600" stroke-width="0.75" stroke-dasharray="1.3 0.7"/><path d="M50.63,-2.90 V2.90" stroke="#5a5600" stroke-width="0.75" stroke-dasharray="1.3 0.7"/><path d="M52.40,-2.90 V2.90" stroke="#5a5600" stroke-width="0.75" stroke-dasharray="1.3 0.7"/></g>
<g transform="translate(498.60,367.60) rotate(-129.80) scale(1,-1)"><path d="M1.12,-1.25 H9 V1.25 H1.12 A1.25,1.25 0 0 1 1.12,-1.25 Z" fill="url(#pin)" stroke="#6a6a6a" stroke-width="0.4"/><path d="M8,-3.76 L9.4,-6.27 H14.5 V6.27 H9.4 L8,3.76 Z" fill="url(#metal)" stroke="#555" stroke-width="0.3"/><path d="M14.7,-6.60 L33.4,-6.40 Q35.0,-6.40 35.0,-4.80 V4.80 Q35.0,6.40 33.4,6.40 L14.7,6.60 Q13.3,6.60 13.3,5.40 V-5.40 Q13.3,-6.60 14.7,-6.60 Z" fill="url(#pb_w)" stroke="#8e8e8e" stroke-width="0.3"/><path d="M34.7,-4.84 H37.2 L38.4,-3.90 H51.8 V3.90 H38.4 L37.2,4.84 H34.7 Z" fill="url(#ps_w)" stroke="#3c3c3c" stroke-width="0.35"/><path d="M39.00,-2.90 V2.90" stroke="#3c3c3c" stroke-width="0.75" stroke-dasharray="1.3 0.7"/><path d="M40.93,-2.90 V2.90" stroke="#3c3c3c" stroke-width="0.75" stroke-dasharray="1.3 0.7"/><path d="M42.87,-2.90 V2.90" stroke="#3c3c3c" stroke-width="0.75" stroke-dasharray="1.3 0.7"/><path d="M44.80,-2.90 V2.90" stroke="#3c3c3c" stroke-width="0.75" stroke-dasharray="1.3 0.7"/><path d="M46.73,-2.90 V2.90" stroke="#3c3c3c" stroke-width="0.75" stroke-dasharray="1.3 0.7"/><path d="M48.67,-2.90 V2.90" stroke="#3c3c3c" stroke-width="0.75" stroke-dasharray="1.3 0.7"/><path d="M50.60,-2.90 V2.90" stroke="#3c3c3c" stroke-width="0.75" stroke-dasharray="1.3 0.7"/></g>
<g transform="translate(496.90,395.60) rotate(-129.80) scale(1,-1)"><path d="M1.12,-1.25 H9 V1.25 H1.12 A1.25,1.25 0 0 1 1.12,-1.25 Z" fill="url(#pin)" stroke="#6a6a6a" stroke-width="0.4"/><path d="M8,-3.76 L9.4,-6.27 H14.5 V6.27 H9.4 L8,3.76 Z" fill="url(#metal)" stroke="#555" stroke-width="0.3"/><path d="M14.7,-6.60 L33.4,-6.40 Q35.0,-6.40 35.0,-4.80 V4.80 Q35.0,6.40 33.4,6.40 L14.7,6.60 Q13.3,6.60 13.3,5.40 V-5.40 Q13.3,-6.60 14.7,-6.60 Z" fill="url(#pb_r)" stroke="#7d0008" stroke-width="0.3"/><path d="M34.7,-4.84 H37.2 L38.4,-3.90 H51.8 V3.90 H38.4 L37.2,4.84 H34.7 Z" fill="url(#ps_r)" stroke="#5a0006" stroke-width="0.35"/><path d="M39.00,-2.90 V2.90" stroke="#5a0006" stroke-width="0.75" stroke-dasharray="1.3 0.7"/><path d="M40.93,-2.90 V2.90" stroke="#5a0006" stroke-width="0.75" stroke-dasharray="1.3 0.7"/><path d="M42.87,-2.90 V2.90" stroke="#5a0006" stroke-width="0.75" stroke-dasharray="1.3 0.7"/><path d="M44.80,-2.90 V2.90" stroke="#5a0006" stroke-width="0.75" stroke-dasharray="1.3 0.7"/><path d="M46.73,-2.90 V2.90" stroke="#5a0006" stroke-width="0.75" stroke-dasharray="1.3 0.7"/><path d="M48.67,-2.90 V2.90" stroke="#5a0006" stroke-width="0.75" stroke-dasharray="1.3 0.7"/><path d="M50.60,-2.90 V2.90" stroke="#5a0006" stroke-width="0.75" stroke-dasharray="1.3 0.7"/></g>
<path d="M474.20,620.00 C475.83,621.83 480.72,626.93 484.00,631.00 C487.28,635.07 490.80,639.57 493.90,644.40 C497.00,649.23 500.32,654.90 502.60,660.00 C504.88,665.10 506.67,670.33 507.60,675.00 C508.53,679.67 508.80,683.50 508.20,688.00 C507.60,692.50 506.28,697.33 504.00,702.00 C501.72,706.67 498.50,711.97 494.50,716.00 C490.50,720.03 485.75,723.13 480.00,726.20 C474.25,729.27 466.50,731.83 460.00,734.40 C453.50,736.97 446.00,739.77 441.00,741.60 C436.00,743.43 433.50,744.13 430.00,745.40 C426.50,746.67 423.05,747.87 420.00,749.20 C416.95,750.53 414.10,752.00 411.70,753.40 C409.30,754.80 406.62,756.90 405.60,757.60" fill="none" stroke="#231f20" stroke-width="5.3" stroke-linecap="round" stroke-linejoin="round"/>
<path d="M468.60,677.20 C469.67,677.83 472.77,680.03 475.00,681.00 C477.23,681.97 479.67,682.73 482.00,683.00 C484.33,683.27 487.10,683.10 489.00,682.60 C490.90,682.10 492.67,680.43 493.40,680.00" fill="none" stroke="#231f20" stroke-width="5.3" stroke-linecap="round" stroke-linejoin="round"/>
<path d="M468.60,643.30 C470.17,644.75 475.17,649.03 478.00,652.00 C480.83,654.97 483.43,657.93 485.60,661.10 C487.77,664.27 489.63,667.68 491.00,671.00 C492.37,674.32 493.33,679.33 493.80,681.00" fill="none" stroke="#231f20" stroke-width="5.3" stroke-linecap="round" stroke-linejoin="round"/>
<path d="M493.60,678.00 C493.67,680.00 494.43,686.33 494.00,690.00 C493.57,693.67 492.73,697.07 491.00,700.00 C489.27,702.93 486.27,706.10 483.60,707.60 C480.93,709.10 478.10,709.47 475.00,709.00 C471.90,708.53 470.67,708.13 465.00,704.80 C459.33,701.47 449.62,694.40 441.00,689.00 C432.38,683.60 422.53,676.13 413.30,672.40 C404.07,668.67 393.93,666.67 385.60,666.60 C377.27,666.53 369.07,669.27 363.30,672.00 C357.53,674.73 353.92,679.17 351.00,683.00 C348.08,686.83 347.38,691.00 345.80,695.00 C344.22,699.00 342.22,705.00 341.50,707.00" fill="none" stroke="#231f20" stroke-width="5.9" stroke-linecap="round" stroke-linejoin="round"/>
<path d="M342.50,703.60 C341.80,705.55 339.80,711.08 338.30,715.30 C336.80,719.52 335.25,725.45 333.50,728.90 C331.75,732.35 328.75,734.82 327.80,736.00" fill="none" stroke="#231f20" stroke-width="5.3" stroke-linecap="round" stroke-linejoin="round"/>
<path d="M343.50,703.00 C343.18,704.83 341.98,710.33 341.60,714.00 C341.22,717.67 341.42,720.57 341.20,725.00 C340.98,729.43 341.27,735.42 340.30,740.60 C339.33,745.78 337.15,751.77 335.40,756.10 C333.65,760.43 330.73,764.85 329.80,766.60" fill="none" stroke="#231f20" stroke-width="5.3" stroke-linecap="round" stroke-linejoin="round"/>
<g transform="translate(426.80,581.30) rotate(39.30)"><path d="M1.22,-1.35 H10 V1.35 H1.22 A1.35,1.35 0 0 1 1.22,-1.35 Z" fill="url(#pin)" stroke="#6a6a6a" stroke-width="0.4"/><path d="M9,-4.42 L10.4,-7.36 H16.2 V7.36 H10.4 L9,4.42 Z" fill="url(#metal)" stroke="#555" stroke-width="0.3"/><path d="M16.4,-7.75 L37.199999999999996,-7.52 Q38.8,-7.52 38.8,-5.92 V5.92 Q38.8,7.52 37.199999999999996,7.52 L16.4,7.75 Q15.0,7.75 15.0,6.55 V-6.55 Q15.0,-7.75 16.4,-7.75 Z" fill="url(#pb_y)" stroke="#8a8400" stroke-width="0.3"/><path d="M38.5,-5.70 H41.0 L42.199999999999996,-4.60 H60.4 V4.60 H42.199999999999996 L41.0,5.70 H38.5 Z" fill="url(#ps_y)" stroke="#5a5600" stroke-width="0.35"/><path d="M42.80,-3.60 V3.60" stroke="#5a5600" stroke-width="0.75" stroke-dasharray="1.3 0.7"/><path d="M44.62,-3.60 V3.60" stroke="#5a5600" stroke-width="0.75" stroke-dasharray="1.3 0.7"/><path d="M46.44,-3.60 V3.60" stroke="#5a5600" stroke-width="0.75" stroke-dasharray="1.3 0.7"/><path d="M48.27,-3.60 V3.60" stroke="#5a5600" stroke-width="0.75" stroke-dasharray="1.3 0.7"/><path d="M50.09,-3.60 V3.60" stroke="#5a5600" stroke-width="0.75" stroke-dasharray="1.3 0.7"/><path d="M51.91,-3.60 V3.60" stroke="#5a5600" stroke-width="0.75" stroke-dasharray="1.3 0.7"/><path d="M53.73,-3.60 V3.60" stroke="#5a5600" stroke-width="0.75" stroke-dasharray="1.3 0.7"/><path d="M55.56,-3.60 V3.60" stroke="#5a5600" stroke-width="0.75" stroke-dasharray="1.3 0.7"/><path d="M57.38,-3.60 V3.60" stroke="#5a5600" stroke-width="0.75" stroke-dasharray="1.3 0.7"/><path d="M59.20,-3.60 V3.60" stroke="#5a5600" stroke-width="0.75" stroke-dasharray="1.3 0.7"/></g>
<g transform="translate(429.90,609.30) rotate(41.30)"><path d="M1.12,-1.25 H9 V1.25 H1.12 A1.25,1.25 0 0 1 1.12,-1.25 Z" fill="url(#pin)" stroke="#6a6a6a" stroke-width="0.4"/><path d="M8,-3.76 L9.4,-6.27 H14.5 V6.27 H9.4 L8,3.76 Z" fill="url(#metal)" stroke="#555" stroke-width="0.3"/><path d="M14.7,-6.60 L34.199999999999996,-6.40 Q35.8,-6.40 35.8,-4.80 V4.80 Q35.8,6.40 34.199999999999996,6.40 L14.7,6.60 Q13.3,6.60 13.3,5.40 V-5.40 Q13.3,-6.60 14.7,-6.60 Z" fill="url(#pb_w)" stroke="#8e8e8e" stroke-width="0.3"/><path d="M35.5,-4.84 H38.0 L39.199999999999996,-3.90 H52.0 V3.90 H39.199999999999996 L38.0,4.84 H35.5 Z" fill="url(#ps_w)" stroke="#3c3c3c" stroke-width="0.35"/><path d="M39.80,-2.90 V2.90" stroke="#3c3c3c" stroke-width="0.75" stroke-dasharray="1.3 0.7"/><path d="M41.63,-2.90 V2.90" stroke="#3c3c3c" stroke-width="0.75" stroke-dasharray="1.3 0.7"/><path d="M43.47,-2.90 V2.90" stroke="#3c3c3c" stroke-width="0.75" stroke-dasharray="1.3 0.7"/><path d="M45.30,-2.90 V2.90" stroke="#3c3c3c" stroke-width="0.75" stroke-dasharray="1.3 0.7"/><path d="M47.13,-2.90 V2.90" stroke="#3c3c3c" stroke-width="0.75" stroke-dasharray="1.3 0.7"/><path d="M48.97,-2.90 V2.90" stroke="#3c3c3c" stroke-width="0.75" stroke-dasharray="1.3 0.7"/><path d="M50.80,-2.90 V2.90" stroke="#3c3c3c" stroke-width="0.75" stroke-dasharray="1.3 0.7"/></g>
<g transform="translate(428.80,642.40) rotate(41.20)"><path d="M1.12,-1.25 H9 V1.25 H1.12 A1.25,1.25 0 0 1 1.12,-1.25 Z" fill="url(#pin)" stroke="#6a6a6a" stroke-width="0.4"/><path d="M8,-3.76 L9.4,-6.27 H14.5 V6.27 H9.4 L8,3.76 Z" fill="url(#metal)" stroke="#555" stroke-width="0.3"/><path d="M14.7,-6.60 L34.9,-6.40 Q36.5,-6.40 36.5,-4.80 V4.80 Q36.5,6.40 34.9,6.40 L14.7,6.60 Q13.3,6.60 13.3,5.40 V-5.40 Q13.3,-6.60 14.7,-6.60 Z" fill="url(#pb_r)" stroke="#7d0008" stroke-width="0.3"/><path d="M36.2,-4.84 H38.7 L39.9,-3.90 H53.3 V3.90 H39.9 L38.7,4.84 H36.2 Z" fill="url(#ps_r)" stroke="#5a0006" stroke-width="0.35"/><path d="M40.50,-2.90 V2.90" stroke="#5a0006" stroke-width="0.75" stroke-dasharray="1.3 0.7"/><path d="M42.43,-2.90 V2.90" stroke="#5a0006" stroke-width="0.75" stroke-dasharray="1.3 0.7"/><path d="M44.37,-2.90 V2.90" stroke="#5a0006" stroke-width="0.75" stroke-dasharray="1.3 0.7"/><path d="M46.30,-2.90 V2.90" stroke="#5a0006" stroke-width="0.75" stroke-dasharray="1.3 0.7"/><path d="M48.23,-2.90 V2.90" stroke="#5a0006" stroke-width="0.75" stroke-dasharray="1.3 0.7"/><path d="M50.17,-2.90 V2.90" stroke="#5a0006" stroke-width="0.75" stroke-dasharray="1.3 0.7"/><path d="M52.10,-2.90 V2.90" stroke="#5a0006" stroke-width="0.75" stroke-dasharray="1.3 0.7"/></g>
<g transform="translate(393.6,768) rotate(-43.1)"><path d="M-3.4,-11.4 L1.6,-12.2 L4.2,-9 L4.2,10.4 L1.4,13 L-3.0,12 L-4.2,8 L-4.2,-7.6 Z" fill="#e9e9e9" stroke="#c9c9c9" stroke-width="0.5"/><path d="M-0.6,-12.8 V12.6" stroke="#d4d4d4" stroke-width="0.5"/></g>
<g transform="translate(294.60,779.40) rotate(-52.90)"><path d="M1.12,-1.25 H9.4 V1.25 H1.12 A1.25,1.25 0 0 1 1.12,-1.25 Z" fill="url(#pin)" stroke="#6a6a6a" stroke-width="0.4"/><path d="M8.4,-3.76 L9.8,-6.27 H15.0 V6.27 H9.8 L8.4,3.76 Z" fill="url(#metal)" stroke="#555" stroke-width="0.3"/><path d="M15.2,-6.60 L35.9,-6.40 Q37.5,-6.40 37.5,-4.80 V4.80 Q37.5,6.40 35.9,6.40 L15.2,6.60 Q13.8,6.60 13.8,5.40 V-5.40 Q13.8,-6.60 15.2,-6.60 Z" fill="url(#pb_w)" stroke="#8e8e8e" stroke-width="0.3"/><path d="M37.2,-4.84 H39.7 L40.9,-3.90 H54.5 V3.90 H40.9 L39.7,4.84 H37.2 Z" fill="url(#ps_w)" stroke="#3c3c3c" stroke-width="0.35"/><path d="M41.50,-2.90 V2.90" stroke="#3c3c3c" stroke-width="0.75" stroke-dasharray="1.3 0.7"/><path d="M43.47,-2.90 V2.90" stroke="#3c3c3c" stroke-width="0.75" stroke-dasharray="1.3 0.7"/><path d="M45.43,-2.90 V2.90" stroke="#3c3c3c" stroke-width="0.75" stroke-dasharray="1.3 0.7"/><path d="M47.40,-2.90 V2.90" stroke="#3c3c3c" stroke-width="0.75" stroke-dasharray="1.3 0.7"/><path d="M49.37,-2.90 V2.90" stroke="#3c3c3c" stroke-width="0.75" stroke-dasharray="1.3 0.7"/><path d="M51.33,-2.90 V2.90" stroke="#3c3c3c" stroke-width="0.75" stroke-dasharray="1.3 0.7"/><path d="M53.30,-2.90 V2.90" stroke="#3c3c3c" stroke-width="0.75" stroke-dasharray="1.3 0.7"/></g>
<g transform="translate(297.50,807.60) rotate(-51.80)"><path d="M1.12,-1.25 H9 V1.25 H1.12 A1.25,1.25 0 0 1 1.12,-1.25 Z" fill="url(#pin)" stroke="#6a6a6a" stroke-width="0.4"/><path d="M8,-3.76 L9.4,-6.27 H14.5 V6.27 H9.4 L8,3.76 Z" fill="url(#metal)" stroke="#555" stroke-width="0.3"/><path d="M14.7,-6.60 L33.9,-6.40 Q35.5,-6.40 35.5,-4.80 V4.80 Q35.5,6.40 33.9,6.40 L14.7,6.60 Q13.3,6.60 13.3,5.40 V-5.40 Q13.3,-6.60 14.7,-6.60 Z" fill="url(#pb_r)" stroke="#7d0008" stroke-width="0.3"/><path d="M35.2,-4.84 H37.7 L38.9,-3.90 H52.0 V3.90 H38.9 L37.7,4.84 H35.2 Z" fill="url(#ps_r)" stroke="#5a0006" stroke-width="0.35"/><path d="M39.50,-2.90 V2.90" stroke="#5a0006" stroke-width="0.75" stroke-dasharray="1.3 0.7"/><path d="M41.38,-2.90 V2.90" stroke="#5a0006" stroke-width="0.75" stroke-dasharray="1.3 0.7"/><path d="M43.27,-2.90 V2.90" stroke="#5a0006" stroke-width="0.75" stroke-dasharray="1.3 0.7"/><path d="M45.15,-2.90 V2.90" stroke="#5a0006" stroke-width="0.75" stroke-dasharray="1.3 0.7"/><path d="M47.03,-2.90 V2.90" stroke="#5a0006" stroke-width="0.75" stroke-dasharray="1.3 0.7"/><path d="M48.92,-2.90 V2.90" stroke="#5a0006" stroke-width="0.75" stroke-dasharray="1.3 0.7"/><path d="M50.80,-2.90 V2.90" stroke="#5a0006" stroke-width="0.75" stroke-dasharray="1.3 0.7"/></g>
<g transform="translate(361.70,800.80) rotate(-43.10)"><path d="M1.22,-1.35 H10 V1.35 H1.22 A1.35,1.35 0 0 1 1.22,-1.35 Z" fill="url(#pin)" stroke="#6a6a6a" stroke-width="0.4"/><path d="M9,-4.36 L10.4,-7.27 H16.2 V7.27 H10.4 L9,4.36 Z" fill="url(#metal)" stroke="#555" stroke-width="0.3"/><path d="M16.4,-7.65 L37.99999999999999,-7.42 Q39.599999999999994,-7.42 39.599999999999994,-5.82 V5.82 Q39.599999999999994,7.42 37.99999999999999,7.42 L16.4,7.65 Q15.0,7.65 15.0,6.45 V-6.45 Q15.0,-7.65 16.4,-7.65 Z" fill="url(#pb_y)" stroke="#8a8400" stroke-width="0.3"/><path d="M39.3,-5.70 H41.8 L42.99999999999999,-4.60 H60.99999999999999 V4.60 H42.99999999999999 L41.8,5.70 H39.3 Z" fill="url(#ps_y)" stroke="#5a5600" stroke-width="0.35"/><path d="M43.60,-3.60 V3.60" stroke="#5a5600" stroke-width="0.75" stroke-dasharray="1.3 0.7"/><path d="M45.40,-3.60 V3.60" stroke="#5a5600" stroke-width="0.75" stroke-dasharray="1.3 0.7"/><path d="M47.20,-3.60 V3.60" stroke="#5a5600" stroke-width="0.75" stroke-dasharray="1.3 0.7"/><path d="M49.00,-3.60 V3.60" stroke="#5a5600" stroke-width="0.75" stroke-dasharray="1.3 0.7"/><path d="M50.80,-3.60 V3.60" stroke="#5a5600" stroke-width="0.75" stroke-dasharray="1.3 0.7"/><path d="M52.60,-3.60 V3.60" stroke="#5a5600" stroke-width="0.75" stroke-dasharray="1.3 0.7"/><path d="M54.40,-3.60 V3.60" stroke="#5a5600" stroke-width="0.75" stroke-dasharray="1.3 0.7"/><path d="M56.20,-3.60 V3.60" stroke="#5a5600" stroke-width="0.75" stroke-dasharray="1.3 0.7"/><path d="M58.00,-3.60 V3.60" stroke="#5a5600" stroke-width="0.75" stroke-dasharray="1.3 0.7"/><path d="M59.80,-3.60 V3.60" stroke="#5a5600" stroke-width="0.75" stroke-dasharray="1.3 0.7"/></g>
</svg>
</body></html>
